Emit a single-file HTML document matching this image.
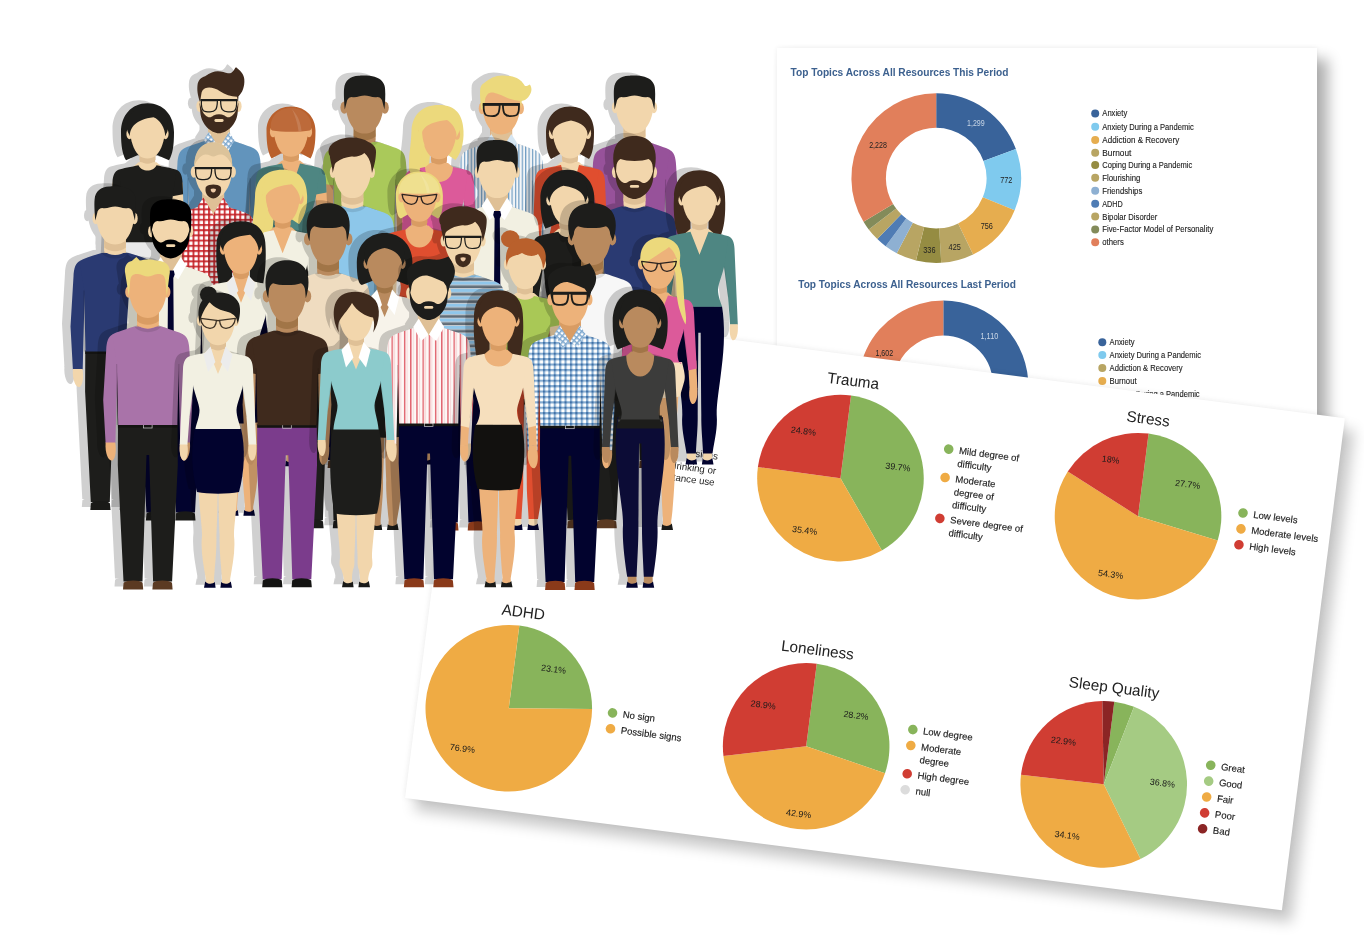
<!DOCTYPE html>
<html lang="en"><head><meta charset="utf-8"><title>Wellbeing dashboard</title>
<style>
html,body{margin:0;padding:0;background:#fff;}
body{width:1364px;height:948px;overflow:hidden;position:relative;font-family:"Liberation Sans",sans-serif;}
svg text{font-family:"Liberation Sans",sans-serif;}
.layer{position:absolute;left:0;top:0;width:1364px;height:948px;overflow:hidden;}
#card1{position:absolute;left:777px;top:48px;width:540px;height:392px;background:#fff;
 box-shadow:11px 11px 13px rgba(0,0,0,.31), 0 0 5px rgba(0,0,0,.07);}
#card2{position:absolute;left:468.1px;top:306px;width:884px;height:495.7px;background:#fff;transform-origin:0 0;transform:rotate(7.29deg);
 box-shadow:11px 11px 14px rgba(0,0,0,.215), 0 0 6px rgba(0,0,0,.08);}
#card2 svg{position:absolute;left:0;top:0;overflow:visible;}
#c1txt{filter:blur(.35px);}
</style></head>
<body>
<div class="layer">
<div id="card1"></div>
<svg id="c1txt" class="layer" width="1364" height="948" viewBox="0 0 1364 948">
<path d="M936.20,93.30A84.8,84.8 0 0 1 1015.89,149.10L983.47,160.90A50.3,50.3 0 0 0 936.20,127.80Z" fill="#39639a"/>
<path d="M1015.89,149.10A84.8,84.8 0 0 1 1014.66,210.28L982.74,197.19A50.3,50.3 0 0 0 983.47,160.90Z" fill="#7fcaee"/>
<path d="M1014.66,210.28A84.8,84.8 0 0 1 973.11,254.45L958.09,223.39A50.3,50.3 0 0 0 982.74,197.19Z" fill="#e6ad4f"/>
<path d="M973.11,254.45A84.8,84.8 0 0 1 941.23,262.75L939.18,228.31A50.3,50.3 0 0 0 958.09,223.39Z" fill="#b8a563"/>
<path d="M941.23,262.75A84.8,84.8 0 0 1 915.97,260.45L924.20,226.95A50.3,50.3 0 0 0 939.18,228.31Z" fill="#958c42"/>
<path d="M915.97,260.45A84.8,84.8 0 0 1 896.78,253.18L912.82,222.64A50.3,50.3 0 0 0 924.20,226.95Z" fill="#b8a563"/>
<path d="M896.78,253.18A84.8,84.8 0 0 1 885.64,246.18L906.21,218.48A50.3,50.3 0 0 0 912.82,222.64Z" fill="#8eb0d2"/>
<path d="M885.64,246.18A84.8,84.8 0 0 1 877.29,239.10L901.26,214.28A50.3,50.3 0 0 0 906.21,218.48Z" fill="#4f7cb4"/>
<path d="M877.29,239.10A84.8,84.8 0 0 1 868.74,229.49L896.19,208.58A50.3,50.3 0 0 0 901.26,214.28Z" fill="#b8a563"/>
<path d="M868.74,229.49A84.8,84.8 0 0 1 863.51,221.78L893.08,204.01A50.3,50.3 0 0 0 896.19,208.58Z" fill="#838b5a"/>
<path d="M863.51,221.78A84.8,84.8 0 0 1 936.20,93.30L936.20,127.80A50.3,50.3 0 0 0 893.08,204.01Z" fill="#e17f5b"/>
<text x="975.9" y="125.8" font-size="8.2" fill="#c9d6e6" text-anchor="middle" textLength="17.7" lengthAdjust="spacingAndGlyphs">1,299</text>
<text x="1006.3" y="183.0" font-size="8.2" fill="#222" text-anchor="middle" textLength="12.2" lengthAdjust="spacingAndGlyphs">772</text>
<text x="986.8" y="228.6" font-size="8.2" fill="#222" text-anchor="middle" textLength="12.2" lengthAdjust="spacingAndGlyphs">756</text>
<text x="954.7" y="250.1" font-size="8.2" fill="#222" text-anchor="middle" textLength="12.2" lengthAdjust="spacingAndGlyphs">425</text>
<text x="929.4" y="252.6" font-size="8.2" fill="#222" text-anchor="middle" textLength="12.2" lengthAdjust="spacingAndGlyphs">336</text>
<text x="878.0" y="148.3" font-size="8.2" fill="#222" text-anchor="middle" textLength="17.7" lengthAdjust="spacingAndGlyphs">2,228</text>
<path d="M943.30,300.60A85,85 0 0 1 1028.25,388.57L993.27,387.34A50,50 0 0 0 943.30,335.60Z" fill="#39639a"/>
<path d="M1028.25,388.57A85,85 0 0 1 1008.41,440.24L981.60,417.74A50,50 0 0 0 993.27,387.34Z" fill="#7fcaee"/>
<path d="M1008.41,440.24A85,85 0 0 1 972.37,465.47L960.40,432.58A50,50 0 0 0 981.60,417.74Z" fill="#b8a563"/>
<path d="M972.37,465.47A85,85 0 0 1 878.19,440.24L905.00,417.74A50,50 0 0 0 960.40,432.58Z" fill="#e6ad4f"/>
<path d="M878.19,440.24A85,85 0 0 1 943.30,300.60L943.30,335.60A50,50 0 0 0 905.00,417.74Z" fill="#e17f5b"/>
<text x="989.4" y="339.0" font-size="8.2" fill="#c9d6e6" text-anchor="middle" textLength="17.7" lengthAdjust="spacingAndGlyphs">1,110</text>
<text x="884.3" y="356.2" font-size="8.2" fill="#222" text-anchor="middle" textLength="17.7" lengthAdjust="spacingAndGlyphs">1,602</text>
<text x="790.6" y="75.6" font-size="10.4" font-weight="bold" fill="#3d618f" textLength="217.8" lengthAdjust="spacingAndGlyphs">Top Topics Across All Resources This Period</text>
<text x="798.2" y="288" font-size="10.4" font-weight="bold" fill="#3d618f" textLength="217.8" lengthAdjust="spacingAndGlyphs">Top Topics Across All Resources Last Period</text>
<circle cx="1095.2" cy="113.5" r="4" fill="#39639a"/>
<text x="1102.3" y="116.4" font-size="8.2" fill="#1c1c1c" stroke="#1c1c1c" stroke-width=".12" textLength="25" lengthAdjust="spacingAndGlyphs">Anxiety</text>
<circle cx="1095.2" cy="126.7" r="4" fill="#7fcaee"/>
<text x="1102.3" y="129.6" font-size="8.2" fill="#1c1c1c" stroke="#1c1c1c" stroke-width=".12" textLength="91.5" lengthAdjust="spacingAndGlyphs">Anxiety During a Pandemic</text>
<circle cx="1095.2" cy="139.9" r="4" fill="#e6ad4f"/>
<text x="1102.3" y="142.8" font-size="8.2" fill="#1c1c1c" stroke="#1c1c1c" stroke-width=".12" textLength="77" lengthAdjust="spacingAndGlyphs">Addiction &amp; Recovery</text>
<circle cx="1095.2" cy="152.8" r="4" fill="#b8a563"/>
<text x="1102.3" y="155.7" font-size="8.2" fill="#1c1c1c" stroke="#1c1c1c" stroke-width=".12" textLength="29" lengthAdjust="spacingAndGlyphs">Burnout</text>
<circle cx="1095.2" cy="164.9" r="4" fill="#958c42"/>
<text x="1102.3" y="167.8" font-size="8.2" fill="#1c1c1c" stroke="#1c1c1c" stroke-width=".12" textLength="90" lengthAdjust="spacingAndGlyphs">Coping During a Pandemic</text>
<circle cx="1095.2" cy="177.8" r="4" fill="#b8a563"/>
<text x="1102.3" y="180.7" font-size="8.2" fill="#1c1c1c" stroke="#1c1c1c" stroke-width=".12" textLength="38" lengthAdjust="spacingAndGlyphs">Flourishing</text>
<circle cx="1095.2" cy="190.8" r="4" fill="#8eb0d2"/>
<text x="1102.3" y="193.7" font-size="8.2" fill="#1c1c1c" stroke="#1c1c1c" stroke-width=".12" textLength="40" lengthAdjust="spacingAndGlyphs">Friendships</text>
<circle cx="1095.2" cy="203.7" r="4" fill="#4f7cb4"/>
<text x="1102.3" y="206.6" font-size="8.2" fill="#1c1c1c" stroke="#1c1c1c" stroke-width=".12" textLength="20.5" lengthAdjust="spacingAndGlyphs">ADHD</text>
<circle cx="1095.2" cy="216.6" r="4" fill="#b8a563"/>
<text x="1102.3" y="219.5" font-size="8.2" fill="#1c1c1c" stroke="#1c1c1c" stroke-width=".12" textLength="55" lengthAdjust="spacingAndGlyphs">Bipolar Disorder</text>
<circle cx="1095.2" cy="229.5" r="4" fill="#838b5a"/>
<text x="1102.3" y="232.4" font-size="8.2" fill="#1c1c1c" stroke="#1c1c1c" stroke-width=".12" textLength="111" lengthAdjust="spacingAndGlyphs">Five-Factor Model of Personality</text>
<circle cx="1095.2" cy="242.2" r="4" fill="#e17f5b"/>
<text x="1102.3" y="245.1" font-size="8.2" fill="#1c1c1c" stroke="#1c1c1c" stroke-width=".12" textLength="21.5" lengthAdjust="spacingAndGlyphs">others</text>
<circle cx="1102.3" cy="342.2" r="4" fill="#39639a"/>
<text x="1109.6" y="345.1" font-size="8.2" fill="#1c1c1c" stroke="#1c1c1c" stroke-width=".12" textLength="25" lengthAdjust="spacingAndGlyphs">Anxiety</text>
<circle cx="1102.3" cy="355.1" r="4" fill="#7fcaee"/>
<text x="1109.6" y="358.0" font-size="8.2" fill="#1c1c1c" stroke="#1c1c1c" stroke-width=".12" textLength="91.5" lengthAdjust="spacingAndGlyphs">Anxiety During a Pandemic</text>
<circle cx="1102.3" cy="368" r="4" fill="#b8a563"/>
<text x="1109.6" y="370.9" font-size="8.2" fill="#1c1c1c" stroke="#1c1c1c" stroke-width=".12" textLength="73" lengthAdjust="spacingAndGlyphs">Addiction &amp; Recovery</text>
<circle cx="1102.3" cy="380.9" r="4" fill="#e6ad4f"/>
<text x="1109.6" y="383.8" font-size="8.2" fill="#1c1c1c" stroke="#1c1c1c" stroke-width=".12" textLength="27" lengthAdjust="spacingAndGlyphs">Burnout</text>
<circle cx="1102.3" cy="393.8" r="4" fill="#958c42"/>
<text x="1109.6" y="396.7" font-size="8.2" fill="#1c1c1c" stroke="#1c1c1c" stroke-width=".12" textLength="90" lengthAdjust="spacingAndGlyphs">Coping During a Pandemic</text>
</svg>
<div id="card2"><svg width="884" height="496" viewBox="0 0 884 496">
<text x="267" y="120.7" font-size="9.7" fill="#222" text-anchor="end">signs</text>
<text x="267" y="135.3" font-size="9.7" fill="#222" text-anchor="end">drinking or</text>
<text x="267" y="147" font-size="9.7" fill="#222" text-anchor="end">substance use</text>
<path d="M391.30,123.50L391.30,40.20A83.3,83.3 0 0 1 441.52,189.96Z" fill="#88b45b"/>
<path d="M391.30,123.50L441.52,189.96A83.3,83.3 0 0 1 308.00,122.98Z" fill="#efab44"/>
<path d="M391.30,123.50L308.00,122.98A83.3,83.3 0 0 1 391.30,40.20Z" fill="#d03d33"/>
<text x="391.6" y="30.5" font-size="15.3" fill="#222" text-anchor="middle">Trauma</text>
<circle cx="495" cy="81" r="4.8" fill="#88b45b"/>
<text x="505.5" y="84.4" font-size="9.55" fill="#1c1c1c" stroke="#1c1c1c" stroke-width=".15">Mild degree of</text>
<text x="505.5" y="97.4" font-size="9.55" fill="#1c1c1c" stroke="#1c1c1c" stroke-width=".15">difficulty</text>
<circle cx="495" cy="109.6" r="4.8" fill="#efab44"/>
<text x="505.5" y="113.0" font-size="9.55" fill="#1c1c1c" stroke="#1c1c1c" stroke-width=".15">Moderate</text>
<text x="505.5" y="126.0" font-size="9.55" fill="#1c1c1c" stroke="#1c1c1c" stroke-width=".15">degree of</text>
<text x="505.5" y="139.0" font-size="9.55" fill="#1c1c1c" stroke="#1c1c1c" stroke-width=".15">difficulty</text>
<circle cx="495" cy="150.8" r="4.8" fill="#d03d33"/>
<text x="505.5" y="154.2" font-size="9.55" fill="#1c1c1c" stroke="#1c1c1c" stroke-width=".15">Severe degree of</text>
<text x="505.5" y="167.2" font-size="9.55" fill="#1c1c1c" stroke="#1c1c1c" stroke-width=".15">difficulty</text>
<path d="M691.30,123.50L691.30,40.20A83.3,83.3 0 0 1 773.40,137.56Z" fill="#88b45b"/>
<path d="M691.30,123.50L773.40,137.56A83.3,83.3 0 1 1 615.93,88.03Z" fill="#efab44"/>
<path d="M691.30,123.50L615.93,88.03A83.3,83.3 0 0 1 691.30,40.20Z" fill="#d03d33"/>
<text x="689" y="30.8" font-size="15.3" fill="#222" text-anchor="middle">Stress</text>
<circle cx="795" cy="107" r="4.8" fill="#88b45b"/>
<text x="805.5" y="110.4" font-size="9.55" fill="#1c1c1c" stroke="#1c1c1c" stroke-width=".15">Low levels</text>
<circle cx="795" cy="123.0" r="4.8" fill="#efab44"/>
<text x="805.5" y="126.4" font-size="9.55" fill="#1c1c1c" stroke="#1c1c1c" stroke-width=".15">Moderate levels</text>
<circle cx="795" cy="139.0" r="4.8" fill="#d03d33"/>
<text x="805.5" y="142.4" font-size="9.55" fill="#1c1c1c" stroke="#1c1c1c" stroke-width=".15">High levels</text>
<path d="M91.50,393.80L91.50,310.50A83.3,83.3 0 0 1 174.21,383.88Z" fill="#88b45b"/>
<path d="M91.50,393.80L174.21,383.88A83.3,83.3 0 1 1 91.50,310.50Z" fill="#efab44"/>
<text x="93.8" y="301.8" font-size="15.3" fill="#222" text-anchor="middle">ADHD</text>
<circle cx="195" cy="385.3" r="4.8" fill="#88b45b"/>
<text x="205.5" y="388.7" font-size="9.55" fill="#1c1c1c" stroke="#1c1c1c" stroke-width=".15">No sign</text>
<circle cx="195" cy="401.3" r="4.8" fill="#efab44"/>
<text x="205.5" y="404.7" font-size="9.55" fill="#1c1c1c" stroke="#1c1c1c" stroke-width=".15">Possible signs</text>
<path d="M391.30,393.80L391.30,310.50A83.3,83.3 0 0 1 472.92,410.44Z" fill="#88b45b"/>
<path d="M391.30,393.80L472.92,410.44A83.3,83.3 0 0 1 310.49,414.01Z" fill="#efab44"/>
<path d="M391.30,393.80L310.49,414.01A83.3,83.3 0 0 1 391.30,310.50Z" fill="#d03d33"/>
<text x="390.4" y="302" font-size="15.3" fill="#222" text-anchor="middle">Loneliness</text>
<circle cx="495" cy="363.7" r="4.8" fill="#88b45b"/>
<text x="505.5" y="367.1" font-size="9.55" fill="#1c1c1c" stroke="#1c1c1c" stroke-width=".15">Low degree</text>
<circle cx="495" cy="379.7" r="4.8" fill="#efab44"/>
<text x="505.5" y="383.1" font-size="9.55" fill="#1c1c1c" stroke="#1c1c1c" stroke-width=".15">Moderate</text>
<text x="505.5" y="396.1" font-size="9.55" fill="#1c1c1c" stroke="#1c1c1c" stroke-width=".15">degree</text>
<circle cx="495" cy="408.3" r="4.8" fill="#d03d33"/>
<text x="505.5" y="411.7" font-size="9.55" fill="#1c1c1c" stroke="#1c1c1c" stroke-width=".15">High degree</text>
<circle cx="495" cy="424.3" r="4.8" fill="#dcdcdc"/>
<text x="505.5" y="427.7" font-size="9.55" fill="#1c1c1c" stroke="#1c1c1c" stroke-width=".15">null</text>
<path d="M691.30,393.80L691.30,310.50A83.3,83.3 0 0 1 711.51,312.99Z" fill="#88b45b"/>
<path d="M691.30,393.80L711.51,312.99A83.3,83.3 0 0 1 737.25,463.28Z" fill="#a5cb83"/>
<path d="M691.30,393.80L737.25,463.28A83.3,83.3 0 0 1 608.01,394.85Z" fill="#efab44"/>
<path d="M691.30,393.80L608.01,394.85A83.3,83.3 0 0 1 679.30,311.37Z" fill="#d03d33"/>
<path d="M691.30,393.80L679.30,311.37A83.3,83.3 0 0 1 691.30,310.50Z" fill="#8b2525"/>
<text x="689.3" y="301.7" font-size="15.3" fill="#222" text-anchor="middle">Sleep Quality</text>
<circle cx="795" cy="361.3" r="4.8" fill="#88b45b"/>
<text x="805.5" y="364.7" font-size="9.55" fill="#1c1c1c" stroke="#1c1c1c" stroke-width=".15">Great</text>
<circle cx="795" cy="377.3" r="4.8" fill="#a5cb83"/>
<text x="805.5" y="380.7" font-size="9.55" fill="#1c1c1c" stroke="#1c1c1c" stroke-width=".15">Good</text>
<circle cx="795" cy="393.3" r="4.8" fill="#efab44"/>
<text x="805.5" y="396.7" font-size="9.55" fill="#1c1c1c" stroke="#1c1c1c" stroke-width=".15">Fair</text>
<circle cx="795" cy="409.3" r="4.8" fill="#d03d33"/>
<text x="805.5" y="412.7" font-size="9.55" fill="#1c1c1c" stroke="#1c1c1c" stroke-width=".15">Poor</text>
<circle cx="795" cy="425.3" r="4.8" fill="#8b2525"/>
<text x="805.5" y="428.7" font-size="9.55" fill="#1c1c1c" stroke="#1c1c1c" stroke-width=".15">Bad</text>
<text x="348.6" y="84.5" font-size="8.9" fill="#1a1a1a" text-anchor="middle">24.8%</text>
<text x="446.9" y="108.2" font-size="8.9" fill="#1a1a1a" text-anchor="middle">39.7%</text>
<text x="362.4" y="182.9" font-size="8.9" fill="#1a1a1a" text-anchor="middle">35.4%</text>
<text x="657" y="73.8" font-size="8.9" fill="#1a1a1a" text-anchor="middle">18%</text>
<text x="736.5" y="88.6" font-size="8.9" fill="#1a1a1a" text-anchor="middle">27.7%</text>
<text x="671.5" y="187.6" font-size="8.9" fill="#1a1a1a" text-anchor="middle">54.3%</text>
<text x="131" y="352.4" font-size="8.9" fill="#1a1a1a" text-anchor="middle">23.1%</text>
<text x="50.6" y="442.6" font-size="8.9" fill="#1a1a1a" text-anchor="middle">76.9%</text>
<text x="343.4" y="361.2" font-size="8.9" fill="#1a1a1a" text-anchor="middle">28.9%</text>
<text x="436.9" y="359.9" font-size="8.9" fill="#1a1a1a" text-anchor="middle">28.2%</text>
<text x="392.4" y="464.7" font-size="8.9" fill="#1a1a1a" text-anchor="middle">42.9%</text>
<text x="645.8" y="359.0" font-size="8.9" fill="#1a1a1a" text-anchor="middle">22.9%</text>
<text x="749.3" y="388.1" font-size="8.9" fill="#1a1a1a" text-anchor="middle">36.8%</text>
<text x="661.5" y="452.0" font-size="8.9" fill="#1a1a1a" text-anchor="middle">34.1%</text>
</svg></div>
<svg class="layer" id="crowd" width="1364" height="948" viewBox="0 0 1364 948">

<defs>
<filter id="sh" x="-20%" y="-20%" width="140%" height="140%" color-interpolation-filters="sRGB">
 <feColorMatrix type="matrix" values="0 0 0 0 0  0 0 0 0 0  0 0 0 0 0  0 0 0 0.185 0"/>
</filter>
<pattern id="chkR" width="5.2" height="5.2" patternUnits="userSpaceOnUse"><rect width="5.2" height="5.2" fill="#fff"/><rect width="5.2" height="2" fill="#d23a3f"/><rect width="2" height="5.2" fill="#d23a3f"/><rect width="2" height="2" fill="#b8262c"/></pattern>
<pattern id="chkB" width="5.4" height="5.4" patternUnits="userSpaceOnUse"><rect width="5.4" height="5.4" fill="#fff"/><rect width="5.4" height="2.2" fill="#86add1"/><rect width="2.2" height="5.4" fill="#86add1"/><rect width="2.2" height="2.2" fill="#3f6fa6"/></pattern>
<pattern id="chkC" width="4" height="4" patternUnits="userSpaceOnUse" patternTransform="rotate(40)"><rect width="4" height="4" fill="#fff"/><rect width="4" height="1.5" fill="#7fa9cf"/><rect width="1.5" height="4" fill="#7fa9cf"/></pattern>
<pattern id="strB" width="3.4" height="8" patternUnits="userSpaceOnUse"><rect width="3.4" height="8" fill="#f4f6f8"/><rect width="1.2" height="8" fill="#6f9cc2"/></pattern>
<pattern id="strR" width="6.2" height="8" patternUnits="userSpaceOnUse"><rect width="6.2" height="8" fill="#fdf8f6"/><rect width="1.4" height="8" fill="#e0606b"/><rect x="3.1" width=".5" height="8" fill="#f1b9bd"/></pattern>
<pattern id="strH" width="8" height="7.4" patternUnits="userSpaceOnUse"><rect width="8" height="7.4" fill="#616d78"/><rect width="8" height="3.2" y="0" fill="#8fc6ea"/><rect width="8" height=".7" y="3.2" fill="#e9eef2"/><rect width="8" height=".7" y="6.7" fill="#e9eef2"/></pattern>
</defs>

<use href="#p0" x="-8.5" y="-3" filter="url(#sh)"/>
<g id="p0" transform="translate(219,132.2)"><path d="M-29.8,107L29.8,107L30,147L24.3,262L5.3,262L1.3,137L-1.3,137L-5.3,262L-24.3,262L-30,147Z" fill="#02032e"/><rect x="-29.8" y="106" width="59.6" height="3.6" fill="#141412"/><rect x="-4.3" y="106.4" width="8.6" height="3.6" fill="none" stroke="#cfcfcf" stroke-width=".7"/><path d="M-24.8,270L-4.6,270L-5.2,263.2C-8,260.2 -21,260.2 -24.2,263.2Z" fill="#5b3a22"/><path d="M24.8,270L4.6,270L5.2,263.2C8,260.2 21,260.2 24.2,263.2Z" fill="#5b3a22"/><path d="M-10.8,-14L10.8,-14L10.8,14L-10.8,14Z" fill="#f2d6ac"/><path d="M-10.8,-8L10.8,-8L10.8,3C5.4,8 -5.4,8 -10.8,3Z" fill="#dfc096"/><path d="M-29,20L-35,16.5C-39.5,18 -41.3,24 -41.6,32L-44.6,82L-42.2,125L-32.4,125L-31,70Z" fill="#6294bc"/><path d="M29,20L35,16.5C39.5,18 41.3,24 41.6,32L44.6,82L42.2,125L32.4,125L31,70Z" fill="#6294bc"/><path d="M-42.2,124.5L-32.6,124.5C-31.3,132 -32.1,140 -35.3,142.5C-39.3,143.5 -42.9,136 -42.2,124.5Z" fill="#f2d6ac"/><path d="M42.2,124.5L32.6,124.5C31.3,132 32.1,140 35.3,142.5C39.3,143.5 42.9,136 42.2,124.5Z" fill="#f2d6ac"/><path d="M-13.5,8.5C-23,11.5 -31,14 -35.5,16.5L-31,45L-29.6,107L29.6,107L31,45L35.5,16.5C31,14 23,11.5 13.5,8.5Z" fill="#6294bc"/><path d="M-30.6,46L-31.6,46L-31.2,107L-29.6,107Z" fill="rgba(0,0,0,.16)"/><path d="M30.6,46L31.6,46L31.2,107L29.6,107Z" fill="rgba(0,0,0,.16)"/><path d="M-11,2L0,17L11,2L11,10L-11,10Z" fill="#f2d6ac"/><path d="M-10.5,3L0,16.5L10.5,3L10.5,-4L-10.5,-4Z" fill="#dfc096"/><path d="M-10,-0.5L-15.5,8L-7.5,22L-0.3,15.5Z" fill="url(#chkC)"/><path d="M10,-0.5L15.5,8L7.5,22L0.3,15.5Z" fill="url(#chkC)"/><ellipse cx="-19.4" cy="-26" rx="3.2" ry="5.8" fill="#f2d6ac"/><ellipse cx="19.4" cy="-26" rx="3.2" ry="5.8" fill="#f2d6ac"/><path d="M-19,-30C-19,-47 -11,-55.5 0,-55.5C11,-55.5 19,-47 19,-30C19,-18 14.5,-8.5 9.5,-3.2C6.5,-0.6 3,0 0,0C-3,0 -6.5,-0.6 -9.5,-3.2C-14.5,-8.5 -19,-18 -19,-30Z" fill="#f2d6ac"/><path d="M-19,-30C-21.5,-38 -22,-42 -21.5,-47C-21,-52 -18,-55 -13.9,-56C-9,-59.5 -5,-61 -1.3,-61C3,-61 6,-59.5 8.9,-59C11,-58.5 13,-59.5 14.5,-61.5C15.5,-63 16,-64.5 17.1,-65C21,-62 25,-58 25.3,-53C25.6,-49 25,-46 24,-43C23,-40 21,-37.5 19.5,-36L19,-30L18,-35.5C12,-35.5 6,-38 1,-41C-4,-44 -9,-45.5 -13.9,-44C-16,-43 -17.5,-41 -17.7,-38Z" fill="#3f2a1d"/><path d="M-19.6,-30L-18.6,-19C-17.5,-8 -8,1 0,1C8,1 17.5,-8 18.6,-19L19.6,-30L17,-22C13.5,-14.5 9,-13.5 5.5,-16.8C2,-18.3 -2,-18.3 -5.5,-16.8C-9,-13.5 -13.5,-14.5 -17,-22Z" fill="#3f2a1d"/><rect x="-4.6" y="-13.2" width="9.2" height="2.9" rx="1.4" fill="#f2d6ac"/><path d="M-1.6,-31.5L-17.6,-31.5C-17.9,-26.0 -17,-22.9 -15.5,-21.5C-14,-20.3 -11,-20.3 -9,-20.3C-6.5,-20.3 -4.6,-20.9 -3.4,-22.5C-2,-24.5 -1.7,-27.5 -1.6,-31.5Z" fill="none" stroke="#1d1d1b" stroke-width="1.25" stroke-linejoin="round"/><path d="M1.6,-31.5L17.6,-31.5C17.9,-26.0 17,-22.9 15.5,-21.5C14,-20.3 11,-20.3 9,-20.3C6.5,-20.3 4.6,-20.9 3.4,-22.5C2,-24.5 1.7,-27.5 1.6,-31.5Z" fill="none" stroke="#1d1d1b" stroke-width="1.25" stroke-linejoin="round"/><path d="M-18.6,-33.10L18.6,-33.10L18.6,-31.10L-18.6,-31.10Z" fill="#1d1d1b"/></g>
<use href="#p1" x="-8.5" y="-3" filter="url(#sh)"/>
<g id="p1" transform="translate(634.5,133.5)"><path d="M-29.8,107L29.8,107L30,147L24.3,262L5.3,262L1.3,137L-1.3,137L-5.3,262L-24.3,262L-30,147Z" fill="#1d1d1b"/><rect x="-29.8" y="106" width="59.6" height="3.6" fill="#141412"/><rect x="-4.3" y="106.4" width="8.6" height="3.6" fill="none" stroke="#cfcfcf" stroke-width=".7"/><path d="M-24.8,270L-4.6,270L-5.2,263.2C-8,260.2 -21,260.2 -24.2,263.2Z" fill="#5b3a22"/><path d="M24.8,270L4.6,270L5.2,263.2C8,260.2 21,260.2 24.2,263.2Z" fill="#5b3a22"/><path d="M-10.8,-14L10.8,-14L10.8,14L-10.8,14Z" fill="#f2d6ac"/><path d="M-10.8,-8L10.8,-8L10.8,3C5.4,8 -5.4,8 -10.8,3Z" fill="#dfc096"/><path d="M-29,20L-35,16.5C-39.5,18 -41.3,24 -41.6,32L-44.6,82L-42.2,125L-32.4,125L-31,70Z" fill="#97529a"/><path d="M29,20L35,16.5C39.5,18 41.3,24 41.6,32L44.6,82L42.2,125L32.4,125L31,70Z" fill="#97529a"/><path d="M-42.2,124.5L-32.6,124.5C-31.3,132 -32.1,140 -35.3,142.5C-39.3,143.5 -42.9,136 -42.2,124.5Z" fill="#f2d6ac"/><path d="M42.2,124.5L32.6,124.5C31.3,132 32.1,140 35.3,142.5C39.3,143.5 42.9,136 42.2,124.5Z" fill="#f2d6ac"/><path d="M-13.5,8.5C-23,11.5 -31,14 -35.5,16.5L-31,45L-29.6,107L29.6,107L31,45L35.5,16.5C31,14 23,11.5 13.5,8.5Z" fill="#97529a"/><path d="M-30.6,46L-31.6,46L-31.2,107L-29.6,107Z" fill="rgba(0,0,0,.16)"/><path d="M30.6,46L31.6,46L31.2,107L29.6,107Z" fill="rgba(0,0,0,.16)"/><path d="M-13.5,8.5C-8,16 8,16 13.5,8.5L10.5,7C6,12 -6,12 -10.5,7Z" fill="rgba(0,0,0,.10)"/><path d="M-10.8,6.5C-6,12 6,12 10.8,6.5L10.8,0L-10.8,0Z" fill="#f2d6ac"/><path d="M-10.8,3C-5,8 5,8 10.8,3L10.8,-6L-10.8,-6Z" fill="#dfc096"/><ellipse cx="-19.4" cy="-26" rx="3.2" ry="5.8" fill="#f2d6ac"/><ellipse cx="19.4" cy="-26" rx="3.2" ry="5.8" fill="#f2d6ac"/><path d="M-19,-30C-19,-47 -11,-55.5 0,-55.5C11,-55.5 19,-47 19,-30C19,-18 14.5,-8.5 9.5,-3.2C6.5,-0.6 3,0 0,0C-3,0 -6.5,-0.6 -9.5,-3.2C-14.5,-8.5 -19,-18 -19,-30Z" fill="#f2d6ac"/><path d="M-19.8,-24C-20.5,-32 -21,-40 -20.5,-45C-20,-53 -14,-57.5 -6,-57.8C-3,-58.3 6,-58.3 10,-56.8C17,-54.8 20.5,-50 20.5,-44C21,-38 20.5,-30 19.8,-24L18,-31C17.5,-34.5 16,-36 13,-36.5C8,-35.5 4,-38 0,-38C-4,-38 -8,-35.5 -13,-36.5C-16,-36 -17.5,-34.5 -18,-31Z" fill="#1d1d1b"/></g>
<use href="#p2" x="-8.5" y="-3" filter="url(#sh)"/>
<g id="p2" transform="translate(364.6,133.6)"><path d="M-29.8,107L29.8,107L30,147L24.3,262L5.3,262L1.3,137L-1.3,137L-5.3,262L-24.3,262L-30,147Z" fill="#1d1d1b"/><rect x="-29.8" y="106" width="59.6" height="3.6" fill="#141412"/><rect x="-4.3" y="106.4" width="8.6" height="3.6" fill="none" stroke="#cfcfcf" stroke-width=".7"/><path d="M-24.8,270L-4.6,270L-5.2,263.2C-8,260.2 -21,260.2 -24.2,263.2Z" fill="#5b3a22"/><path d="M24.8,270L4.6,270L5.2,263.2C8,260.2 21,260.2 24.2,263.2Z" fill="#5b3a22"/><path d="M-10.8,-14L10.8,-14L10.8,14L-10.8,14Z" fill="#b98a5e"/><path d="M-10.8,-8L10.8,-8L10.8,3C5.4,8 -5.4,8 -10.8,3Z" fill="#a17547"/><path d="M-31,40L-42,40L-44.4,82L-42,125L-33,125L-31.5,70Z" fill="#b98a5e"/><path d="M-29,20L-35,16.5C-39.5,18 -41.3,24 -41.6,32L-43,50L-30.5,52Z" fill="#aac95a"/><path d="M31,40L42,40L44.4,82L42,125L33,125L31.5,70Z" fill="#b98a5e"/><path d="M29,20L35,16.5C39.5,18 41.3,24 41.6,32L43,50L30.5,52Z" fill="#aac95a"/><path d="M-42.2,124.5L-32.6,124.5C-31.3,132 -32.1,140 -35.3,142.5C-39.3,143.5 -42.9,136 -42.2,124.5Z" fill="#b98a5e"/><path d="M42.2,124.5L32.6,124.5C31.3,132 32.1,140 35.3,142.5C39.3,143.5 42.9,136 42.2,124.5Z" fill="#b98a5e"/><path d="M-13.5,8.5C-23,11.5 -31,14 -35.5,16.5L-31,45L-29.6,107L29.6,107L31,45L35.5,16.5C31,14 23,11.5 13.5,8.5Z" fill="#aac95a"/><path d="M-30.6,46L-31.6,46L-31.2,107L-29.6,107Z" fill="rgba(0,0,0,.16)"/><path d="M30.6,46L31.6,46L31.2,107L29.6,107Z" fill="rgba(0,0,0,.16)"/><path d="M-13.5,8.5C-8,16 8,16 13.5,8.5L10.5,7C6,12 -6,12 -10.5,7Z" fill="rgba(0,0,0,.10)"/><path d="M-10.8,6.5C-6,12 6,12 10.8,6.5L10.8,0L-10.8,0Z" fill="#b98a5e"/><path d="M-10.8,3C-5,8 5,8 10.8,3L10.8,-6L-10.8,-6Z" fill="#a17547"/><ellipse cx="-20.3" cy="-26" rx="3.9" ry="6.2" fill="#b98a5e"/><ellipse cx="20.3" cy="-26" rx="3.9" ry="6.2" fill="#b98a5e"/><path d="M-19,-30C-19,-47 -11,-55.5 0,-55.5C11,-55.5 19,-47 19,-30C19,-18 14.5,-8.5 9.5,-3.2C6.5,-0.6 3,0 0,0C-3,0 -6.5,-0.6 -9.5,-3.2C-14.5,-8.5 -19,-18 -19,-30Z" fill="#b98a5e"/><path d="M-19.8,-24C-20.5,-32 -21,-40 -20.5,-45C-20,-53 -14,-57.5 -6,-57.8C-3,-58.3 6,-58.3 10,-56.8C17,-54.8 20.5,-50 20.5,-44C21,-38 20.5,-30 19.8,-24L18,-31C17.5,-34.5 16,-36 13,-36.5C8,-35.5 4,-38 0,-38C-4,-38 -8,-35.5 -13,-36.5C-16,-36 -17.5,-34.5 -18,-31Z" fill="#1d1d1b"/></g>
<use href="#p3" x="-8.5" y="-3" filter="url(#sh)"/>
<g id="p3" transform="translate(501.3,134.4)"><path d="M-29.8,107L29.8,107L30,147L24.3,262L5.3,262L1.3,137L-1.3,137L-5.3,262L-24.3,262L-30,147Z" fill="#02032e"/><rect x="-29.8" y="106" width="59.6" height="3.6" fill="#141412"/><rect x="-4.3" y="106.4" width="8.6" height="3.6" fill="none" stroke="#cfcfcf" stroke-width=".7"/><path d="M-24.8,270L-4.6,270L-5.2,263.2C-8,260.2 -21,260.2 -24.2,263.2Z" fill="#5b3a22"/><path d="M24.8,270L4.6,270L5.2,263.2C8,260.2 21,260.2 24.2,263.2Z" fill="#5b3a22"/><path d="M-10.8,-14L10.8,-14L10.8,14L-10.8,14Z" fill="#edb27a"/><path d="M-10.8,-8L10.8,-8L10.8,3C5.4,8 -5.4,8 -10.8,3Z" fill="#d99c63"/><path d="M-29,20L-35,16.5C-39.5,18 -41.3,24 -41.6,32L-44.6,82L-42.2,125L-32.4,125L-31,70Z" fill="url(#strB)"/><path d="M29,20L35,16.5C39.5,18 41.3,24 41.6,32L44.6,82L42.2,125L32.4,125L31,70Z" fill="url(#strB)"/><path d="M-42.2,124.5L-32.6,124.5C-31.3,132 -32.1,140 -35.3,142.5C-39.3,143.5 -42.9,136 -42.2,124.5Z" fill="#f2d6ac"/><path d="M42.2,124.5L32.6,124.5C31.3,132 32.1,140 35.3,142.5C39.3,143.5 42.9,136 42.2,124.5Z" fill="#f2d6ac"/><path d="M-13.5,8.5C-23,11.5 -31,14 -35.5,16.5L-31,45L-29.6,107L29.6,107L31,45L35.5,16.5C31,14 23,11.5 13.5,8.5Z" fill="url(#strB)"/><path d="M-30.6,46L-31.6,46L-31.2,107L-29.6,107Z" fill="rgba(0,0,0,.16)"/><path d="M30.6,46L31.6,46L31.2,107L29.6,107Z" fill="rgba(0,0,0,.16)"/><path d="M-11,2L0,17L11,2L11,10L-11,10Z" fill="#f2d6ac"/><path d="M-10.5,3L0,16.5L10.5,3L10.5,-4L-10.5,-4Z" fill="#dfc096"/><path d="M-10,-0.5L-15.5,8L-7.5,22L-0.3,15.5Z" fill="#d6e6f2"/><path d="M10,-0.5L15.5,8L7.5,22L0.3,15.5Z" fill="#d6e6f2"/><ellipse cx="-19.4" cy="-26" rx="3.2" ry="5.8" fill="#edb27a"/><ellipse cx="19.4" cy="-26" rx="3.2" ry="5.8" fill="#edb27a"/><path d="M-19,-30C-19,-47 -11,-55.5 0,-55.5C11,-55.5 19,-47 19,-30C19,-18 14.5,-8.5 9.5,-3.2C6.5,-0.6 3,0 0,0C-3,0 -6.5,-0.6 -9.5,-3.2C-14.5,-8.5 -19,-18 -19,-30Z" fill="#edb27a"/><path d="M-20.4,-25C-20.5,-32 -21.5,-37 -21.2,-42C-21.5,-47 -20,-50 -17.2,-51.5C-12,-56 -6,-59 0.8,-59C6,-59 11,-58 15.5,-56.5C19,-55 21.5,-52 23.7,-48.5C25.5,-48 27,-49 28.6,-50C30.5,-47 30.5,-44 29.4,-41.5C28,-38 26,-36 23.7,-34.3L20.4,-33.5L20,-26L18.5,-33.5C15,-34 11,-35 7.4,-36C2,-38 -3,-41 -7.4,-41.7C-10,-42 -12.5,-41.5 -13.9,-40C-15.5,-38 -16.3,-36 -16.3,-33.5L-17.2,-25.3Z" fill="#ecd97c"/><path d="M-1.6,-29.5L-17.6,-29.5C-17.9,-24.0 -17,-20.9 -15.5,-19.5C-14,-18.3 -11,-18.3 -9,-18.3C-6.5,-18.3 -4.6,-18.9 -3.4,-20.5C-2,-22.5 -1.7,-25.5 -1.6,-29.5Z" fill="none" stroke="#1d1d1b" stroke-width="1.8" stroke-linejoin="round"/><path d="M1.6,-29.5L17.6,-29.5C17.9,-24.0 17,-20.9 15.5,-19.5C14,-18.3 11,-18.3 9,-18.3C6.5,-18.3 4.6,-18.9 3.4,-20.5C2,-22.5 1.7,-25.5 1.6,-29.5Z" fill="none" stroke="#1d1d1b" stroke-width="1.8" stroke-linejoin="round"/><path d="M-18.6,-31.32L18.6,-31.32L18.6,-28.88L-18.6,-28.88Z" fill="#1d1d1b"/></g>
<use href="#p4" x="-8.5" y="-3" filter="url(#sh)"/>
<g id="p4" transform="translate(291,156.4)"><path d="M0,-50C-16,-50 -24.5,-38 -24.5,-26C-24.5,-12 -23.0,-4 -19.5,2L-10,-3L10,-3L19.5,2C23.0,-4 24.5,-12 24.5,-26C24.5,-38 16,-50 0,-50Z" fill="#b9602c"/><path d="M-19.5,144C-18.5,168 -15.8,182 -16,192C-17.6,206 -14.5,220 -12.2,234L-12.4,241L-3.6,241L-4,234C-3,220 -1.2,206 -1.6,192C-1,178 -0.4,162 -0.4,144Z" fill="#edb27a"/><path d="M-14,243L-2.4,243L-3.2,237.2C-5.5,239.6 -10.5,239.6 -12.8,236.6Z" fill="#02032e"/><path d="M19.5,144C18.5,168 15.8,182 16,192C17.6,206 14.5,220 12.2,234L12.4,241L3.6,241L4,234C3,220 1.2,206 1.6,192C1,178 0.4,162 0.4,144Z" fill="#edb27a"/><path d="M14,243L2.4,243L3.2,237.2C5.5,239.6 10.5,239.6 12.8,236.6Z" fill="#02032e"/><path d="M-23,83.5L23,83.5C27.5,102 26.5,128 21,148C10,150.2 -10,150.2 -21,148C-26.5,128 -27.5,102 -23,83.5Z" fill="#1d1d1b"/><path d="M-7.6,-14L7.6,-14L7.6,12L-7.6,12Z" fill="#edb27a"/><path d="M-7.6,-8L7.6,-8L7.6,3C3.8,8 -3.8,8 -7.6,3Z" fill="#d99c63"/><path d="M-25,30L-35,24L-37.5,82L-38.3,100L-30.6,100L-28.5,72L-24.5,42Z" fill="#edb27a"/><path d="M-24,16L-29,11.5C-33,13 -34.8,18 -35,24L-35.6,36L-25,38Z" fill="#4e8682"/><path d="M-38.3,99.5L-30.6,99.5C-29.6,106 -30.2,112.5 -33,115.5C-36.5,116.5 -39,110 -38.3,99.5Z" fill="#edb27a"/><path d="M25,30L35,24L37.5,82L38.3,100L30.6,100L28.5,72L24.5,42Z" fill="#edb27a"/><path d="M24,16L29,11.5C33,13 34.8,18 35,24L35.6,36L25,38Z" fill="#4e8682"/><path d="M38.3,99.5L30.6,99.5C29.6,106 30.2,112.5 33,115.5C36.5,116.5 39,110 38.3,99.5Z" fill="#edb27a"/><path d="M-9,4L9,4L16,10L13,38L-13,38L-16,10Z" fill="#edb27a"/><path d="M-8,1C-4,7 4,7 8,1L8,-6L-8,-6Z" fill="#d99c63"/><path d="M-9,7C-16,8.5 -25,10 -29,11.5L-25,40C-23,50 -19,58 -18.5,65C-18.5,72 -21.5,78 -22.6,84 L22.6,84 C21.5,78 18.5,72 18.5,65C19,58 23,50 25,40L29,11.5C25,10 16,8.5 9,7L0,34Z" fill="#4e8682"/><path d="M-24.6,42L-25.4,42L-29,72L-28.4,72Z" fill="rgba(0,0,0,.10)"/><path d="M24.6,42L25.4,42L29,72L28.4,72Z" fill="rgba(0,0,0,.10)"/><ellipse cx="-18" cy="-24.5" rx="3.1" ry="5.4" fill="#edb27a"/><ellipse cx="18" cy="-24.5" rx="3.1" ry="5.4" fill="#edb27a"/><path d="M-17.3,-29C-17.3,-41 -10,-46.5 0,-46.5C10,-46.5 17.3,-41 17.3,-29C17.3,-17 13.5,-8 9,-3.2C6,-0.4 3,0.3 0,0.3C-3,0.3 -6,-0.4 -9,-3.2C-13.5,-8 -17.3,-17 -17.3,-29Z" fill="#edb27a"/><path d="M-18.6,-26C-10,-24.2 10,-24.2 18.6,-26L20,-27C22,-38 14,-48.5 0,-48.5C-14,-48.5 -22,-38 -20,-27Z" fill="#bd6a3a"/><path d="M1,-47.5C4,-40.5 6.5,-34 7.5,-25.2L10.5,-25.5C9.5,-36 6,-41.5 1,-47.5Z" fill="rgba(255,255,255,.13)"/></g>
<use href="#p5" x="-8.5" y="-3" filter="url(#sh)"/>
<g id="p5" transform="translate(570,158.1)"><path d="M0,-51.5C-16,-51.5 -24,-39.5 -24,-26C-24,-12 -22.5,-4 -19,1L-10,-4L10,-4L19,1C22.5,-4 24,-12 24,-26C24,-39.5 16,-51.5 0,-51.5Z" fill="#3f2a1d"/><path d="M-19.5,144C-18.5,168 -15.8,182 -16,192C-17.6,206 -14.5,220 -12.2,234L-12.4,241L-3.6,241L-4,234C-3,220 -1.2,206 -1.6,192C-1,178 -0.4,162 -0.4,144Z" fill="#f2d6ac"/><path d="M-14,243L-2.4,243L-3.2,237.2C-5.5,239.6 -10.5,239.6 -12.8,236.6Z" fill="#02032e"/><path d="M19.5,144C18.5,168 15.8,182 16,192C17.6,206 14.5,220 12.2,234L12.4,241L3.6,241L4,234C3,220 1.2,206 1.6,192C1,178 0.4,162 0.4,144Z" fill="#f2d6ac"/><path d="M14,243L2.4,243L3.2,237.2C5.5,239.6 10.5,239.6 12.8,236.6Z" fill="#02032e"/><path d="M-23,83.5L23,83.5C27.5,102 26.5,128 21,148C10,150.2 -10,150.2 -21,148C-26.5,128 -27.5,102 -23,83.5Z" fill="#1d1d1b"/><path d="M-7.6,-14L7.6,-14L7.6,12L-7.6,12Z" fill="#f2d6ac"/><path d="M-7.6,-8L7.6,-8L7.6,3C3.8,8 -3.8,8 -7.6,3Z" fill="#dfc096"/><path d="M-24,16L-29,11.5C-33,13 -34.8,18 -35,24L-37.5,82L-38.3,100L-30.6,100L-28.5,72L-24.5,42Z" fill="#e04e2f"/><path d="M-38.3,99.5L-30.6,99.5C-29.6,106 -30.2,112.5 -33,115.5C-36.5,116.5 -39,110 -38.3,99.5Z" fill="#f2d6ac"/><path d="M24,16L29,11.5C33,13 34.8,18 35,24L37.5,82L38.3,100L30.6,100L28.5,72L24.5,42Z" fill="#e04e2f"/><path d="M38.3,99.5L30.6,99.5C29.6,106 30.2,112.5 33,115.5C36.5,116.5 39,110 38.3,99.5Z" fill="#f2d6ac"/><path d="M-9,4L9,4L16,10L13,44L-13,44L-16,10Z" fill="#f2d6ac"/><path d="M-8,1C-4,7 4,7 8,1L8,-6L-8,-6Z" fill="#dfc096"/><path d="M-9,7C-16,8.5 -25,10 -29,11.5L-25,40C-23,50 -19,58 -18.5,65C-18.5,72 -21.5,78 -22.6,84 L22.6,84 C21.5,78 18.5,72 18.5,65C19,58 23,50 25,40L29,11.5C25,10 16,8.5 9,7L0,40Z" fill="#e04e2f"/><path d="M-24.6,42L-25.4,42L-29,72L-28.4,72Z" fill="rgba(0,0,0,.10)"/><path d="M24.6,42L25.4,42L29,72L28.4,72Z" fill="rgba(0,0,0,.10)"/><ellipse cx="-18" cy="-24.5" rx="3.1" ry="5.4" fill="#f2d6ac"/><ellipse cx="18" cy="-24.5" rx="3.1" ry="5.4" fill="#f2d6ac"/><path d="M-17.3,-29C-17.3,-41 -10,-46.5 0,-46.5C10,-46.5 17.3,-41 17.3,-29C17.3,-17 13.5,-8 9,-3.2C6,-0.4 3,0.3 0,0.3C-3,0.3 -6,-0.4 -9,-3.2C-13.5,-8 -17.3,-17 -17.3,-29Z" fill="#f2d6ac"/><path d="M-17.6,-22C-18,-30 -12,-35.5 1,-37.5C12,-35.5 18,-30 17.6,-22L20,-27C22.5,-40 14,-50 0,-50C-14,-50 -22.5,-40 -20,-27Z" fill="#3f2a1d"/></g>
<use href="#p6" x="-8.5" y="-3" filter="url(#sh)"/>
<g id="p6" transform="translate(147.5,158.3)"><path d="M0,-55C-16,-55 -26.5,-43 -26.5,-26C-26.5,-12 -25.0,-4 -21.5,2L-10,-3L10,-3L21.5,2C25.0,-4 26.5,-12 26.5,-26C26.5,-43 16,-55 0,-55Z" fill="#1d1d1b"/><path d="M-19.5,144C-18.5,168 -15.8,182 -16,192C-17.6,206 -14.5,220 -12.2,234L-12.4,241L-3.6,241L-4,234C-3,220 -1.2,206 -1.6,192C-1,178 -0.4,162 -0.4,144Z" fill="#f2d6ac"/><path d="M-14,243L-2.4,243L-3.2,237.2C-5.5,239.6 -10.5,239.6 -12.8,236.6Z" fill="#02032e"/><path d="M19.5,144C18.5,168 15.8,182 16,192C17.6,206 14.5,220 12.2,234L12.4,241L3.6,241L4,234C3,220 1.2,206 1.6,192C1,178 0.4,162 0.4,144Z" fill="#f2d6ac"/><path d="M14,243L2.4,243L3.2,237.2C5.5,239.6 10.5,239.6 12.8,236.6Z" fill="#02032e"/><path d="M-23,83.5L23,83.5C27.5,102 26.5,128 21,148C10,150.2 -10,150.2 -21,148C-26.5,128 -27.5,102 -23,83.5Z" fill="#e9e9e9"/><path d="M-7.6,-14L7.6,-14L7.6,12L-7.6,12Z" fill="#f2d6ac"/><path d="M-7.6,-8L7.6,-8L7.6,3C3.8,8 -3.8,8 -7.6,3Z" fill="#dfc096"/><path d="M-25,30L-35,24L-37.5,82L-38.3,100L-30.6,100L-28.5,72L-24.5,42Z" fill="#f2d6ac"/><path d="M-24,16L-29,11.5C-33,13 -34.8,18 -35,24L-35.6,36L-25,38Z" fill="#1d1d1b"/><path d="M-38.3,99.5L-30.6,99.5C-29.6,106 -30.2,112.5 -33,115.5C-36.5,116.5 -39,110 -38.3,99.5Z" fill="#f2d6ac"/><path d="M25,30L35,24L37.5,82L38.3,100L30.6,100L28.5,72L24.5,42Z" fill="#f2d6ac"/><path d="M24,16L29,11.5C33,13 34.8,18 35,24L35.6,36L25,38Z" fill="#1d1d1b"/><path d="M38.3,99.5L30.6,99.5C29.6,106 30.2,112.5 33,115.5C36.5,116.5 39,110 38.3,99.5Z" fill="#f2d6ac"/><path d="M-9,4L9,4L16,10L13,18L-13,18L-16,10Z" fill="#f2d6ac"/><path d="M-8,1C-4,7 4,7 8,1L8,-6L-8,-6Z" fill="#dfc096"/><path d="M-9,7C-16,8.5 -25,10 -29,11.5L-25,40C-23,50 -19,58 -18.5,65C-18.5,72 -21.5,78 -22.6,84 L22.6,84 C21.5,78 18.5,72 18.5,65C19,58 23,50 25,40L29,11.5C25,10 16,8.5 9,7C6,14 -6,14 -9,7Z" fill="#1d1d1b"/><path d="M-24.6,42L-25.4,42L-29,72L-28.4,72Z" fill="rgba(0,0,0,.10)"/><path d="M24.6,42L25.4,42L29,72L28.4,72Z" fill="rgba(0,0,0,.10)"/><ellipse cx="-18" cy="-24.5" rx="3.1" ry="5.4" fill="#f2d6ac"/><ellipse cx="18" cy="-24.5" rx="3.1" ry="5.4" fill="#f2d6ac"/><path d="M-17.3,-29C-17.3,-41 -10,-46.5 0,-46.5C10,-46.5 17.3,-41 17.3,-29C17.3,-17 13.5,-8 9,-3.2C6,-0.4 3,0.3 0,0.3C-3,0.3 -6,-0.4 -9,-3.2C-13.5,-8 -17.3,-17 -17.3,-29Z" fill="#f2d6ac"/><path d="M-17.6,-22C-18,-30 -12,-39 6,-41C12,-39 18,-30 17.6,-22L20,-27C22.5,-40 14,-53 0,-53C-14,-53 -22.5,-40 -20,-27Z" fill="#1d1d1b"/></g>
<use href="#p7" x="-8.5" y="-3" filter="url(#sh)"/>
<g id="p7" transform="translate(439,158.9)"><path d="M0,-54C-17,-54 -27,-44 -27.5,-28C-28,-14 -30.5,-2 -30,10C-29.5,20 -26,28 -22,32L-12,26L-9,-4L9,-4L16.5,1C22,-6 25,-16 24.5,-28C24,-44 17,-54 0,-54Z" fill="#ecd97c"/><path d="M-19.5,144C-18.5,168 -15.8,182 -16,192C-17.6,206 -14.5,220 -12.2,234L-12.4,241L-3.6,241L-4,234C-3,220 -1.2,206 -1.6,192C-1,178 -0.4,162 -0.4,144Z" fill="#edb27a"/><path d="M-14,243L-2.4,243L-3.2,237.2C-5.5,239.6 -10.5,239.6 -12.8,236.6Z" fill="#02032e"/><path d="M19.5,144C18.5,168 15.8,182 16,192C17.6,206 14.5,220 12.2,234L12.4,241L3.6,241L4,234C3,220 1.2,206 1.6,192C1,178 0.4,162 0.4,144Z" fill="#edb27a"/><path d="M14,243L2.4,243L3.2,237.2C5.5,239.6 10.5,239.6 12.8,236.6Z" fill="#02032e"/><path d="M-23,83.5L23,83.5C27.5,102 26.5,128 21,148C10,150.2 -10,150.2 -21,148C-26.5,128 -27.5,102 -23,83.5Z" fill="#02032e"/><path d="M-7.6,-14L7.6,-14L7.6,12L-7.6,12Z" fill="#edb27a"/><path d="M-7.6,-8L7.6,-8L7.6,3C3.8,8 -3.8,8 -7.6,3Z" fill="#d99c63"/><path d="M-24,16L-29,11.5C-33,13 -34.8,18 -35,24L-37.5,82L-38.3,100L-30.6,100L-28.5,72L-24.5,42Z" fill="#dc5a9a"/><path d="M-38.3,99.5L-30.6,99.5C-29.6,106 -30.2,112.5 -33,115.5C-36.5,116.5 -39,110 -38.3,99.5Z" fill="#edb27a"/><path d="M24,16L29,11.5C33,13 34.8,18 35,24L37.5,82L38.3,100L30.6,100L28.5,72L24.5,42Z" fill="#dc5a9a"/><path d="M38.3,99.5L30.6,99.5C29.6,106 30.2,112.5 33,115.5C36.5,116.5 39,110 38.3,99.5Z" fill="#edb27a"/><path d="M-9,4L9,4L16,10L13,26L-13,26L-16,10Z" fill="#edb27a"/><path d="M-8,1C-4,7 4,7 8,1L8,-6L-8,-6Z" fill="#d99c63"/><path d="M-14,8C-18,9 -25,10 -29,11.5L-25,40C-23,50 -19,58 -18.5,65C-18.5,72 -21.5,78 -22.6,84 L22.6,84 C21.5,78 18.5,72 18.5,65C19,58 23,50 25,40L29,11.5C25,10 18,9 14,8C13.5,28 -13.5,28 -14,8Z" fill="#dc5a9a"/><path d="M-24.6,42L-25.4,42L-29,72L-28.4,72Z" fill="rgba(0,0,0,.10)"/><path d="M24.6,42L25.4,42L29,72L28.4,72Z" fill="rgba(0,0,0,.10)"/><ellipse cx="-18" cy="-24.5" rx="3.1" ry="5.4" fill="#edb27a"/><ellipse cx="18" cy="-24.5" rx="3.1" ry="5.4" fill="#edb27a"/><path d="M-17.3,-29C-17.3,-41 -10,-46.5 0,-46.5C10,-46.5 17.3,-41 17.3,-29C17.3,-17 13.5,-8 9,-3.2C6,-0.4 3,0.3 0,0.3C-3,0.3 -6,-0.4 -9,-3.2C-13.5,-8 -17.3,-17 -17.3,-29Z" fill="#edb27a"/><path d="M-17.6,-22C-18,-30 -12,-37 8,-39C12,-37 18,-30 17.6,-22L20,-27C22.5,-40 14,-52 0,-52C-14,-52 -22.5,-40 -20,-27Z" fill="#ecd97c"/><path d="M-17,-30C-24,-28 -28.5,-14 -29.5,-2C-30.5,10 -28,22 -22,32C-20,24 -19.5,16 -19,8C-18.5,0 -16.5,-8 -14.5,-14C-16,-18 -17,-24 -17,-30Z" fill="#ecd97c"/></g>
<use href="#p8" x="-8.5" y="-3" filter="url(#sh)"/>
<g id="p8" transform="translate(213.3,198)"><path d="M-29.8,107L29.8,107L30,147L24.3,262L5.3,262L1.3,137L-1.3,137L-5.3,262L-24.3,262L-30,147Z" fill="#02032e"/><rect x="-29.8" y="106" width="59.6" height="3.6" fill="#141412"/><rect x="-4.3" y="106.4" width="8.6" height="3.6" fill="none" stroke="#cfcfcf" stroke-width=".7"/><path d="M-24.8,270L-4.6,270L-5.2,263.2C-8,260.2 -21,260.2 -24.2,263.2Z" fill="#5b3a22"/><path d="M24.8,270L4.6,270L5.2,263.2C8,260.2 21,260.2 24.2,263.2Z" fill="#5b3a22"/><path d="M-10.8,-14L10.8,-14L10.8,14L-10.8,14Z" fill="#f2d6ac"/><path d="M-10.8,-8L10.8,-8L10.8,3C5.4,8 -5.4,8 -10.8,3Z" fill="#dfc096"/><path d="M-29,20L-35,16.5C-39.5,18 -41.3,24 -41.6,32L-44.6,82L-42.2,125L-32.4,125L-31,70Z" fill="url(#chkR)"/><path d="M29,20L35,16.5C39.5,18 41.3,24 41.6,32L44.6,82L42.2,125L32.4,125L31,70Z" fill="url(#chkR)"/><path d="M-42.2,124.5L-32.6,124.5C-31.3,132 -32.1,140 -35.3,142.5C-39.3,143.5 -42.9,136 -42.2,124.5Z" fill="#f2d6ac"/><path d="M42.2,124.5L32.6,124.5C31.3,132 32.1,140 35.3,142.5C39.3,143.5 42.9,136 42.2,124.5Z" fill="#f2d6ac"/><path d="M-13.5,8.5C-23,11.5 -31,14 -35.5,16.5L-31,45L-29.6,107L29.6,107L31,45L35.5,16.5C31,14 23,11.5 13.5,8.5Z" fill="url(#chkR)"/><path d="M-30.6,46L-31.6,46L-31.2,107L-29.6,107Z" fill="rgba(0,0,0,.16)"/><path d="M30.6,46L31.6,46L31.2,107L29.6,107Z" fill="rgba(0,0,0,.16)"/><path d="M-11,2L0,17L11,2L11,10L-11,10Z" fill="#f2d6ac"/><path d="M-10.5,3L0,16.5L10.5,3L10.5,-4L-10.5,-4Z" fill="#dfc096"/><path d="M-10,-0.5L-15.5,8L-7.5,22L-0.3,15.5Z" fill="url(#chkR)"/><path d="M10,-0.5L15.5,8L7.5,22L0.3,15.5Z" fill="url(#chkR)"/><ellipse cx="-19.4" cy="-26" rx="3.2" ry="5.8" fill="#f2d6ac"/><ellipse cx="19.4" cy="-26" rx="3.2" ry="5.8" fill="#f2d6ac"/><path d="M-19,-30C-19,-47 -11,-55.5 0,-55.5C11,-55.5 19,-47 19,-30C19,-18 14.5,-8.5 9.5,-3.2C6.5,-0.6 3,0 0,0C-3,0 -6.5,-0.6 -9.5,-3.2C-14.5,-8.5 -19,-18 -19,-30Z" fill="#f2d6ac"/><path d="M-19,-32C-19,-48 -11,-55.5 0,-55.5C11,-55.5 19,-48 19,-32C16,-39 12,-43 8,-43.5C4.5,-43.8 2,-41.5 0,-41.5C-2,-41.5 -4.5,-43.8 -8,-43.5C-12,-43 -16,-39 -19,-32Z" fill="#dcc39a"/><path d="M-7.5,-11C-4,-14.2 4,-14.2 7.5,-11C8.8,-6 6.5,-0.4 0,0.4C-6.5,-0.4 -8.8,-6 -7.5,-11Z" fill="#3f2a1d"/><path d="M-2.6,-9C-1.2,-9.8 1.2,-9.8 2.6,-9C2.6,-7 1.8,-5.6 0,-5.4C-1.8,-5.6 -2.6,-7 -2.6,-9Z" fill="#efcaa6"/><path d="M-1.6,-29.5L-17.6,-29.5C-17.9,-24.0 -17,-20.9 -15.5,-19.5C-14,-18.3 -11,-18.3 -9,-18.3C-6.5,-18.3 -4.6,-18.9 -3.4,-20.5C-2,-22.5 -1.7,-25.5 -1.6,-29.5Z" fill="none" stroke="#1d1d1b" stroke-width="1.3" stroke-linejoin="round"/><path d="M1.6,-29.5L17.6,-29.5C17.9,-24.0 17,-20.9 15.5,-19.5C14,-18.3 11,-18.3 9,-18.3C6.5,-18.3 4.6,-18.9 3.4,-20.5C2,-22.5 1.7,-25.5 1.6,-29.5Z" fill="none" stroke="#1d1d1b" stroke-width="1.3" stroke-linejoin="round"/><path d="M-18.6,-31.12L18.6,-31.12L18.6,-29.08L-18.6,-29.08Z" fill="#1d1d1b"/></g>
<use href="#p9" x="-8.5" y="-3" filter="url(#sh)"/>
<g id="p9" transform="translate(352.4,198.1)"><path d="M-29.8,107L29.8,107L30,147L24.3,262L5.3,262L1.3,137L-1.3,137L-5.3,262L-24.3,262L-30,147Z" fill="#02032e"/><rect x="-29.8" y="106" width="59.6" height="3.6" fill="#141412"/><rect x="-4.3" y="106.4" width="8.6" height="3.6" fill="none" stroke="#cfcfcf" stroke-width=".7"/><path d="M-24.8,270L-4.6,270L-5.2,263.2C-8,260.2 -21,260.2 -24.2,263.2Z" fill="#5b3a22"/><path d="M24.8,270L4.6,270L5.2,263.2C8,260.2 21,260.2 24.2,263.2Z" fill="#5b3a22"/><path d="M-10.8,-14L10.8,-14L10.8,14L-10.8,14Z" fill="#f2d6ac"/><path d="M-10.8,-8L10.8,-8L10.8,3C5.4,8 -5.4,8 -10.8,3Z" fill="#dfc096"/><path d="M-31,40L-42,40L-44.4,82L-42,125L-33,125L-31.5,70Z" fill="#f2d6ac"/><path d="M-29,20L-35,16.5C-39.5,18 -41.3,24 -41.6,32L-43,50L-30.5,52Z" fill="#8dc7ea"/><path d="M31,40L42,40L44.4,82L42,125L33,125L31.5,70Z" fill="#f2d6ac"/><path d="M29,20L35,16.5C39.5,18 41.3,24 41.6,32L43,50L30.5,52Z" fill="#8dc7ea"/><path d="M-42.2,124.5L-32.6,124.5C-31.3,132 -32.1,140 -35.3,142.5C-39.3,143.5 -42.9,136 -42.2,124.5Z" fill="#f2d6ac"/><path d="M42.2,124.5L32.6,124.5C31.3,132 32.1,140 35.3,142.5C39.3,143.5 42.9,136 42.2,124.5Z" fill="#f2d6ac"/><path d="M-13.5,8.5C-23,11.5 -31,14 -35.5,16.5L-31,45L-29.6,107L29.6,107L31,45L35.5,16.5C31,14 23,11.5 13.5,8.5Z" fill="#8dc7ea"/><path d="M-30.6,46L-31.6,46L-31.2,107L-29.6,107Z" fill="rgba(0,0,0,.16)"/><path d="M30.6,46L31.6,46L31.2,107L29.6,107Z" fill="rgba(0,0,0,.16)"/><path d="M-13.5,8.5C-8,16 8,16 13.5,8.5L10.5,7C6,12 -6,12 -10.5,7Z" fill="rgba(0,0,0,.10)"/><path d="M-10.8,6.5C-6,12 6,12 10.8,6.5L10.8,0L-10.8,0Z" fill="#f2d6ac"/><path d="M-10.8,3C-5,8 5,8 10.8,3L10.8,-6L-10.8,-6Z" fill="#dfc096"/><ellipse cx="-19.4" cy="-26" rx="3.2" ry="5.8" fill="#f2d6ac"/><ellipse cx="19.4" cy="-26" rx="3.2" ry="5.8" fill="#f2d6ac"/><path d="M-19,-30C-19,-47 -11,-55.5 0,-55.5C11,-55.5 19,-47 19,-30C19,-18 14.5,-8.5 9.5,-3.2C6.5,-0.6 3,0 0,0C-3,0 -6.5,-0.6 -9.5,-3.2C-14.5,-8.5 -19,-18 -19,-30Z" fill="#f2d6ac"/><path d="M-19.7,-25C-20,-32 -22.5,-38 -22.5,-42C-25,-46 -24,-51 -20,-54.5C-14,-59 -7,-60.5 -1,-60.5C6,-60.5 12,-59 16,-56C21,-54 24,-50 23.6,-46C23.5,-40 22.5,-34 19.6,-25L18.5,-33C17.5,-38 15.5,-42 12,-45C8,-41.5 3,-41 -1,-41.5C-6,-41 -12,-39 -15.6,-36C-17,-35 -18,-33.5 -18,-32Z" fill="#3f2a1d"/></g>
<use href="#p10" x="-8.5" y="-3" filter="url(#sh)"/>
<g id="p10" transform="translate(497.2,198.1)"><path d="M-29.8,107L29.8,107L30,147L24.3,262L5.3,262L1.3,137L-1.3,137L-5.3,262L-24.3,262L-30,147Z" fill="#1d1d1b"/><rect x="-29.8" y="106" width="59.6" height="3.6" fill="#141412"/><rect x="-4.3" y="106.4" width="8.6" height="3.6" fill="none" stroke="#cfcfcf" stroke-width=".7"/><path d="M-24.8,270L-4.6,270L-5.2,263.2C-8,260.2 -21,260.2 -24.2,263.2Z" fill="#5b3a22"/><path d="M24.8,270L4.6,270L5.2,263.2C8,260.2 21,260.2 24.2,263.2Z" fill="#5b3a22"/><path d="M-10.8,-14L10.8,-14L10.8,14L-10.8,14Z" fill="#f2d6ac"/><path d="M-10.8,-8L10.8,-8L10.8,3C5.4,8 -5.4,8 -10.8,3Z" fill="#dfc096"/><path d="M-29,20L-35,16.5C-39.5,18 -41.3,24 -41.6,32L-44.6,82L-42.2,125L-32.4,125L-31,70Z" fill="#f2f0e2"/><path d="M29,20L35,16.5C39.5,18 41.3,24 41.6,32L44.6,82L42.2,125L32.4,125L31,70Z" fill="#f2f0e2"/><path d="M-42.2,124.5L-32.6,124.5C-31.3,132 -32.1,140 -35.3,142.5C-39.3,143.5 -42.9,136 -42.2,124.5Z" fill="#f2d6ac"/><path d="M42.2,124.5L32.6,124.5C31.3,132 32.1,140 35.3,142.5C39.3,143.5 42.9,136 42.2,124.5Z" fill="#f2d6ac"/><path d="M-13.5,8.5C-23,11.5 -31,14 -35.5,16.5L-31,45L-29.6,107L29.6,107L31,45L35.5,16.5C31,14 23,11.5 13.5,8.5Z" fill="#f2f0e2"/><path d="M-30.6,46L-31.6,46L-31.2,107L-29.6,107Z" fill="rgba(0,0,0,.16)"/><path d="M30.6,46L31.6,46L31.2,107L29.6,107Z" fill="rgba(0,0,0,.16)"/><path d="M-11,2L0,17L11,2L11,10L-11,10Z" fill="#f2d6ac"/><path d="M-10.5,3L0,16.5L10.5,3L10.5,-4L-10.5,-4Z" fill="#dfc096"/><path d="M-10,-0.5L-15.5,8L-7.5,22L-0.3,15.5Z" fill="#ffffff"/><path d="M10,-0.5L15.5,8L7.5,22L0.3,15.5Z" fill="#ffffff"/><path d="M-3.1,13L3.1,13L4,17L2.6,20.5L3.3,107L-3.3,107L-2.6,20.5L-4,17Z" fill="#02032e"/><ellipse cx="-19.4" cy="-26" rx="3.2" ry="5.8" fill="#f2d6ac"/><ellipse cx="19.4" cy="-26" rx="3.2" ry="5.8" fill="#f2d6ac"/><path d="M-19,-30C-19,-47 -11,-55.5 0,-55.5C11,-55.5 19,-47 19,-30C19,-18 14.5,-8.5 9.5,-3.2C6.5,-0.6 3,0 0,0C-3,0 -6.5,-0.6 -9.5,-3.2C-14.5,-8.5 -19,-18 -19,-30Z" fill="#f2d6ac"/><path d="M-19.8,-24C-20.5,-32 -21,-40 -20.5,-45C-20,-53 -14,-57.5 -6,-57.8C-3,-58.3 6,-58.3 10,-56.8C17,-54.8 20.5,-50 20.5,-44C21,-38 20.5,-30 19.8,-24L18,-31C17.5,-34.5 16,-36 13,-36.5C8,-35.5 4,-38 0,-38C-4,-38 -8,-35.5 -13,-36.5C-16,-36 -17.5,-34.5 -18,-31Z" fill="#1d1d1b"/></g>
<use href="#p11" x="-8.5" y="-3" filter="url(#sh)"/>
<g id="p11" transform="translate(634.5,198.1)"><path d="M-29.8,107L29.8,107L30,147L24.3,262L5.3,262L1.3,137L-1.3,137L-5.3,262L-24.3,262L-30,147Z" fill="#1d1d1b"/><rect x="-29.8" y="106" width="59.6" height="3.6" fill="#141412"/><rect x="-4.3" y="106.4" width="8.6" height="3.6" fill="none" stroke="#cfcfcf" stroke-width=".7"/><path d="M-24.8,270L-4.6,270L-5.2,263.2C-8,260.2 -21,260.2 -24.2,263.2Z" fill="#5b3a22"/><path d="M24.8,270L4.6,270L5.2,263.2C8,260.2 21,260.2 24.2,263.2Z" fill="#5b3a22"/><path d="M-10.8,-14L10.8,-14L10.8,14L-10.8,14Z" fill="#f2d6ac"/><path d="M-10.8,-8L10.8,-8L10.8,3C5.4,8 -5.4,8 -10.8,3Z" fill="#dfc096"/><path d="M-31,40L-42,40L-44.4,82L-42,125L-33,125L-31.5,70Z" fill="#f2d6ac"/><path d="M-29,20L-35,16.5C-39.5,18 -41.3,24 -41.6,32L-43,50L-30.5,52Z" fill="#2a3a72"/><path d="M31,40L42,40L44.4,82L42,125L33,125L31.5,70Z" fill="#f2d6ac"/><path d="M29,20L35,16.5C39.5,18 41.3,24 41.6,32L43,50L30.5,52Z" fill="#2a3a72"/><path d="M-42.2,124.5L-32.6,124.5C-31.3,132 -32.1,140 -35.3,142.5C-39.3,143.5 -42.9,136 -42.2,124.5Z" fill="#f2d6ac"/><path d="M42.2,124.5L32.6,124.5C31.3,132 32.1,140 35.3,142.5C39.3,143.5 42.9,136 42.2,124.5Z" fill="#f2d6ac"/><path d="M-13.5,8.5C-23,11.5 -31,14 -35.5,16.5L-31,45L-29.6,107L29.6,107L31,45L35.5,16.5C31,14 23,11.5 13.5,8.5Z" fill="#2a3a72"/><path d="M-30.6,46L-31.6,46L-31.2,107L-29.6,107Z" fill="rgba(0,0,0,.16)"/><path d="M30.6,46L31.6,46L31.2,107L29.6,107Z" fill="rgba(0,0,0,.16)"/><path d="M-13.5,8.5C-8,16 8,16 13.5,8.5L10.5,7C6,12 -6,12 -10.5,7Z" fill="rgba(0,0,0,.10)"/><path d="M-10.8,6.5C-6,12 6,12 10.8,6.5L10.8,0L-10.8,0Z" fill="#f2d6ac"/><path d="M-10.8,3C-5,8 5,8 10.8,3L10.8,-6L-10.8,-6Z" fill="#dfc096"/><ellipse cx="-19.4" cy="-26" rx="3.2" ry="5.8" fill="#f2d6ac"/><ellipse cx="19.4" cy="-26" rx="3.2" ry="5.8" fill="#f2d6ac"/><path d="M-19,-30C-19,-47 -11,-55.5 0,-55.5C11,-55.5 19,-47 19,-30C19,-18 14.5,-8.5 9.5,-3.2C6.5,-0.6 3,0 0,0C-3,0 -6.5,-0.6 -9.5,-3.2C-14.5,-8.5 -19,-18 -19,-30Z" fill="#f2d6ac"/><path d="M-18.6,-24C-21.86,-34 -22.79,-46 -17.67,-54C-13.02,-60.5 -5.58,-62 0,-62C5.58,-62 13.02,-60.5 17.67,-54C22.79,-46 21.86,-34 18.6,-24L18.2,-31C18,-35 16.5,-37.5 14,-39C8,-36.5 -8,-36.5 -14,-39C-16.5,-37.5 -18,-35 -18.2,-31Z" fill="#3f2a1d"/><path d="M-19.6,-30L-18.6,-19C-17.5,-8 -8,1 0,1C8,1 17.5,-8 18.6,-19L19.6,-30L17,-22C13.5,-14.5 9,-13.5 5.5,-16.8C2,-18.3 -2,-18.3 -5.5,-16.8C-9,-13.5 -13.5,-14.5 -17,-22Z" fill="#3f2a1d"/><rect x="-4.6" y="-13.2" width="9.2" height="2.9" rx="1.4" fill="#f2d6ac"/></g>
<use href="#p12" x="-8.5" y="-3" filter="url(#sh)"/>
<g id="p12" transform="translate(419.4,221.5)"><path d="M0,-50C-16,-50 -23.5,-38 -23.5,-26C-23.5,-12 -22.0,-4 -18.5,-3L-10,-8L10,-8L18.5,-3C22.0,-4 23.5,-12 23.5,-26C23.5,-38 16,-50 0,-50Z" fill="#ecd97c"/><path d="M-19.5,144C-18.5,168 -15.8,182 -16,192C-17.6,206 -14.5,220 -12.2,234L-12.4,241L-3.6,241L-4,234C-3,220 -1.2,206 -1.6,192C-1,178 -0.4,162 -0.4,144Z" fill="#edb27a"/><path d="M-14,243L-2.4,243L-3.2,237.2C-5.5,239.6 -10.5,239.6 -12.8,236.6Z" fill="#02032e"/><path d="M19.5,144C18.5,168 15.8,182 16,192C17.6,206 14.5,220 12.2,234L12.4,241L3.6,241L4,234C3,220 1.2,206 1.6,192C1,178 0.4,162 0.4,144Z" fill="#edb27a"/><path d="M14,243L2.4,243L3.2,237.2C5.5,239.6 10.5,239.6 12.8,236.6Z" fill="#02032e"/><path d="M-23,83.5L23,83.5C27.5,102 26.5,128 21,148C10,150.2 -10,150.2 -21,148C-26.5,128 -27.5,102 -23,83.5Z" fill="#1d1d1b"/><path d="M-7.6,-14L7.6,-14L7.6,12L-7.6,12Z" fill="#edb27a"/><path d="M-7.6,-8L7.6,-8L7.6,3C3.8,8 -3.8,8 -7.6,3Z" fill="#d99c63"/><path d="M-24,16L-29,11.5C-33,13 -34.8,18 -35,24L-37.5,82L-38.3,100L-30.6,100L-28.5,72L-24.5,42Z" fill="#e04e2f"/><path d="M-38.3,99.5L-30.6,99.5C-29.6,106 -30.2,112.5 -33,115.5C-36.5,116.5 -39,110 -38.3,99.5Z" fill="#edb27a"/><path d="M24,16L29,11.5C33,13 34.8,18 35,24L37.5,82L38.3,100L30.6,100L28.5,72L24.5,42Z" fill="#e04e2f"/><path d="M38.3,99.5L30.6,99.5C29.6,106 30.2,112.5 33,115.5C36.5,116.5 39,110 38.3,99.5Z" fill="#edb27a"/><path d="M-9,4L9,4L16,10L13,30L-13,30L-16,10Z" fill="#edb27a"/><path d="M-8,1C-4,7 4,7 8,1L8,-6L-8,-6Z" fill="#d99c63"/><path d="M-14,8C-18,9 -25,10 -29,11.5L-25,40C-23,50 -19,58 -18.5,65C-18.5,72 -21.5,78 -22.6,84 L22.6,84 C21.5,78 18.5,72 18.5,65C19,58 23,50 25,40L29,11.5C25,10 18,9 14,8C13.5,32 -13.5,32 -14,8Z" fill="#e04e2f"/><path d="M-24.6,42L-25.4,42L-29,72L-28.4,72Z" fill="rgba(0,0,0,.10)"/><path d="M24.6,42L25.4,42L29,72L28.4,72Z" fill="rgba(0,0,0,.10)"/><ellipse cx="-18" cy="-24.5" rx="3.1" ry="5.4" fill="#edb27a"/><ellipse cx="18" cy="-24.5" rx="3.1" ry="5.4" fill="#edb27a"/><path d="M-17.3,-29C-17.3,-41 -10,-46.5 0,-46.5C10,-46.5 17.3,-41 17.3,-29C17.3,-17 13.5,-8 9,-3.2C6,-0.4 3,0.3 0,0.3C-3,0.3 -6,-0.4 -9,-3.2C-13.5,-8 -17.3,-17 -17.3,-29Z" fill="#edb27a"/><path d="M-18.6,-29C-10,-27.2 10,-27.2 18.6,-29L20,-27C22,-38 14,-48.5 0,-48.5C-14,-48.5 -22,-38 -20,-27Z" fill="#efe08f"/><path d="M1,-47.5C4,-40.5 6.5,-37 7.5,-28.2L10.5,-28.5C9.5,-39 6,-41.5 1,-47.5Z" fill="rgba(255,255,255,.13)"/><path d="M-1.6,-25.2L-17.4,-27.2C-16.8,-21 -13,-17.2 -8,-17.2C-4,-17.2 -1.8,-20.5 -1.6,-25.2Z" fill="none" stroke="#2a2220" stroke-width="1.3" stroke-linejoin="round"/><path d="M1.6,-25.2L17.4,-27.2C16.8,-21 13,-17.2 8,-17.2C4,-17.2 1.8,-20.5 1.6,-25.2Z" fill="none" stroke="#2a2220" stroke-width="1.3" stroke-linejoin="round"/><path d="M-2,-25.6L2,-25.6L2,-24.2L-2,-24.2Z" fill="#2a2220"/></g>
<use href="#p13" x="-8.5" y="-3" filter="url(#sh)"/>
<g id="p13" transform="translate(282.6,223.3)"><path d="M0,-53.5C-17,-53.5 -27,-43.5 -27.5,-28C-28,-14 -30.5,-2 -30,10C-29.5,20 -26,28 -22,32L-12,26L-9,-4L9,-4L16.5,1C22,-6 25,-16 24.5,-28C24,-43.5 17,-53.5 0,-53.5Z" fill="#ecd97c"/><path d="M-19.5,144C-18.5,168 -15.8,182 -16,192C-17.6,206 -14.5,220 -12.2,234L-12.4,241L-3.6,241L-4,234C-3,220 -1.2,206 -1.6,192C-1,178 -0.4,162 -0.4,144Z" fill="#edb27a"/><path d="M-14,243L-2.4,243L-3.2,237.2C-5.5,239.6 -10.5,239.6 -12.8,236.6Z" fill="#02032e"/><path d="M19.5,144C18.5,168 15.8,182 16,192C17.6,206 14.5,220 12.2,234L12.4,241L3.6,241L4,234C3,220 1.2,206 1.6,192C1,178 0.4,162 0.4,144Z" fill="#edb27a"/><path d="M14,243L2.4,243L3.2,237.2C5.5,239.6 10.5,239.6 12.8,236.6Z" fill="#02032e"/><path d="M-23,83.5L23,83.5C27.5,102 26.5,128 21,148C10,150.2 -10,150.2 -21,148C-26.5,128 -27.5,102 -23,83.5Z" fill="#02032e"/><path d="M-7.6,-14L7.6,-14L7.6,12L-7.6,12Z" fill="#edb27a"/><path d="M-7.6,-8L7.6,-8L7.6,3C3.8,8 -3.8,8 -7.6,3Z" fill="#d99c63"/><path d="M-24,16L-29,11.5C-33,13 -34.8,18 -35,24L-37.5,82L-38.3,100L-30.6,100L-28.5,72L-24.5,42Z" fill="#f2f0e2"/><path d="M-38.3,99.5L-30.6,99.5C-29.6,106 -30.2,112.5 -33,115.5C-36.5,116.5 -39,110 -38.3,99.5Z" fill="#edb27a"/><path d="M24,16L29,11.5C33,13 34.8,18 35,24L37.5,82L38.3,100L30.6,100L28.5,72L24.5,42Z" fill="#f2f0e2"/><path d="M38.3,99.5L30.6,99.5C29.6,106 30.2,112.5 33,115.5C36.5,116.5 39,110 38.3,99.5Z" fill="#edb27a"/><path d="M-9,4L9,4L16,10L13,34L-13,34L-16,10Z" fill="#edb27a"/><path d="M-8,1C-4,7 4,7 8,1L8,-6L-8,-6Z" fill="#d99c63"/><path d="M-9,7C-16,8.5 -25,10 -29,11.5L-25,40C-23,50 -19,58 -18.5,65C-18.5,72 -21.5,78 -22.6,84 L22.6,84 C21.5,78 18.5,72 18.5,65C19,58 23,50 25,40L29,11.5C25,10 16,8.5 9,7L0,30Z" fill="#f2f0e2"/><path d="M-24.6,42L-25.4,42L-29,72L-28.4,72Z" fill="rgba(0,0,0,.10)"/><path d="M24.6,42L25.4,42L29,72L28.4,72Z" fill="rgba(0,0,0,.10)"/><ellipse cx="-18" cy="-24.5" rx="3.1" ry="5.4" fill="#edb27a"/><ellipse cx="18" cy="-24.5" rx="3.1" ry="5.4" fill="#edb27a"/><path d="M-17.3,-29C-17.3,-41 -10,-46.5 0,-46.5C10,-46.5 17.3,-41 17.3,-29C17.3,-17 13.5,-8 9,-3.2C6,-0.4 3,0.3 0,0.3C-3,0.3 -6,-0.4 -9,-3.2C-13.5,-8 -17.3,-17 -17.3,-29Z" fill="#edb27a"/><path d="M-17.6,-22C-18,-30 -12,-37 9,-39C12,-37 18,-30 17.6,-22L20,-27C22.5,-40 14,-52 0,-52C-14,-52 -22.5,-40 -20,-27Z" fill="#ecd97c"/><path d="M-17,-30C-24,-28 -28.5,-14 -29.5,-2C-30.5,10 -28,22 -22,32C-20,24 -19.5,16 -19,8C-18.5,0 -16.5,-8 -14.5,-14C-16,-18 -17,-24 -17,-30Z" fill="#ecd97c"/></g>
<use href="#p14" x="-8.5" y="-3" filter="url(#sh)"/>
<g id="p14" transform="translate(567.4,224.7)"><path d="M0,-55C-16,-55 -27,-43 -27,-26C-27,-12 -25.5,-4 -22,4L-10,-1L10,-1L22,4C25.5,-4 27,-12 27,-26C27,-43 16,-55 0,-55Z" fill="#1d1d1b"/><path d="M-19.5,144C-18.5,168 -15.8,182 -16,192C-17.6,206 -14.5,220 -12.2,234L-12.4,241L-3.6,241L-4,234C-3,220 -1.2,206 -1.6,192C-1,178 -0.4,162 -0.4,144Z" fill="#f2d6ac"/><path d="M-14,243L-2.4,243L-3.2,237.2C-5.5,239.6 -10.5,239.6 -12.8,236.6Z" fill="#02032e"/><path d="M19.5,144C18.5,168 15.8,182 16,192C17.6,206 14.5,220 12.2,234L12.4,241L3.6,241L4,234C3,220 1.2,206 1.6,192C1,178 0.4,162 0.4,144Z" fill="#f2d6ac"/><path d="M14,243L2.4,243L3.2,237.2C5.5,239.6 10.5,239.6 12.8,236.6Z" fill="#02032e"/><path d="M-23,83.5L23,83.5C27.5,102 26.5,128 21,148C10,150.2 -10,150.2 -21,148C-26.5,128 -27.5,102 -23,83.5Z" fill="#1d1d1b"/><path d="M-7.6,-14L7.6,-14L7.6,12L-7.6,12Z" fill="#f2d6ac"/><path d="M-7.6,-8L7.6,-8L7.6,3C3.8,8 -3.8,8 -7.6,3Z" fill="#dfc096"/><path d="M-24,16L-29,11.5C-33,13 -34.8,18 -35,24L-37.5,82L-38.3,100L-30.6,100L-28.5,72L-24.5,42Z" fill="#1d1d1b"/><path d="M-38.3,99.5L-30.6,99.5C-29.6,106 -30.2,112.5 -33,115.5C-36.5,116.5 -39,110 -38.3,99.5Z" fill="#f2d6ac"/><path d="M24,16L29,11.5C33,13 34.8,18 35,24L37.5,82L38.3,100L30.6,100L28.5,72L24.5,42Z" fill="#1d1d1b"/><path d="M38.3,99.5L30.6,99.5C29.6,106 30.2,112.5 33,115.5C36.5,116.5 39,110 38.3,99.5Z" fill="#f2d6ac"/><path d="M-9,4L9,4L16,10L13,18L-13,18L-16,10Z" fill="#f2d6ac"/><path d="M-8,1C-4,7 4,7 8,1L8,-6L-8,-6Z" fill="#dfc096"/><path d="M-9,7C-16,8.5 -25,10 -29,11.5L-25,40C-23,50 -19,58 -18.5,65C-18.5,72 -21.5,78 -22.6,84 L22.6,84 C21.5,78 18.5,72 18.5,65C19,58 23,50 25,40L29,11.5C25,10 16,8.5 9,7C6,14 -6,14 -9,7Z" fill="#1d1d1b"/><path d="M-24.6,42L-25.4,42L-29,72L-28.4,72Z" fill="rgba(0,0,0,.10)"/><path d="M24.6,42L25.4,42L29,72L28.4,72Z" fill="rgba(0,0,0,.10)"/><ellipse cx="-18" cy="-24.5" rx="3.1" ry="5.4" fill="#f2d6ac"/><ellipse cx="18" cy="-24.5" rx="3.1" ry="5.4" fill="#f2d6ac"/><path d="M-17.3,-29C-17.3,-41 -10,-46.5 0,-46.5C10,-46.5 17.3,-41 17.3,-29C17.3,-17 13.5,-8 9,-3.2C6,-0.4 3,0.3 0,0.3C-3,0.3 -6,-0.4 -9,-3.2C-13.5,-8 -17.3,-17 -17.3,-29Z" fill="#f2d6ac"/><path d="M-17.6,-22C-18,-30 -12,-37 -4,-39C12,-37 18,-30 17.6,-22L20,-27C22.5,-40 14,-53 0,-53C-14,-53 -22.5,-40 -20,-27Z" fill="#1d1d1b"/></g>
<use href="#p15" x="-8.5" y="-3" filter="url(#sh)"/>
<g id="p15" transform="translate(699.5,224.7)"><path d="M0,-54.5C-18,-54.5 -25.5,-42.5 -25.5,-28C-26.5,-10 -24.5,5 -20.5,12L-9,6L-9,-4L9,-4L9,6L20.5,12C24.5,5 26.5,-10 25.5,-28C25.5,-42.5 18,-54.5 0,-54.5Z" fill="#3f2a1d"/><path d="M-12.4,227.8L-12.6,237.8L-3.4,237.8L-3.8,227.8Z" fill="#f2d6ac"/><path d="M-14,239.8L-2.4,239.8L-3.2,234.0C-5.5,236.4 -10.5,236.4 -12.8,233.4Z" fill="#02032e"/><path d="M12.4,227.8L12.6,237.8L3.4,237.8L3.8,227.8Z" fill="#f2d6ac"/><path d="M14,239.8L2.4,239.8L3.2,234.0C5.5,236.4 10.5,236.4 12.8,233.4Z" fill="#02032e"/><path d="M-22.5,81.5L22.5,81.5C25.5,100 25,122 22,144C19.5,166 17,178 17.2,190C18.2,204 15.4,212.8 13,228.8L3.6,228.8C3,214.8 1.6,204 1.8,190C1.6,162 1.3,132 1.2,108L-1.2,108C-1.3,132 -1.6,162 -1.8,190C-1.6,204 -3,214.8 -3.6,228.8L-13,228.8C-15.4,212.8 -18.2,204 -17.2,190C-17,178 -19.5,166 -22,144C-25,122 -25.5,100 -22.5,81.5Z" fill="#02032e"/><path d="M-7.6,-14L7.6,-14L7.6,12L-7.6,12Z" fill="#f2d6ac"/><path d="M-7.6,-8L7.6,-8L7.6,3C3.8,8 -3.8,8 -7.6,3Z" fill="#dfc096"/><path d="M-24,16L-29,11.5C-33,13 -34.8,18 -35,24L-37.5,82L-38.3,100L-30.6,100L-28.5,72L-24.5,42Z" fill="#4e8682"/><path d="M-38.3,99.5L-30.6,99.5C-29.6,106 -30.2,112.5 -33,115.5C-36.5,116.5 -39,110 -38.3,99.5Z" fill="#f2d6ac"/><path d="M24,16L29,11.5C33,13 34.8,18 35,24L37.5,82L38.3,100L30.6,100L28.5,72L24.5,42Z" fill="#4e8682"/><path d="M38.3,99.5L30.6,99.5C29.6,106 30.2,112.5 33,115.5C36.5,116.5 39,110 38.3,99.5Z" fill="#f2d6ac"/><path d="M-9,4L9,4L16,10L13,34L-13,34L-16,10Z" fill="#f2d6ac"/><path d="M-8,1C-4,7 4,7 8,1L8,-6L-8,-6Z" fill="#dfc096"/><path d="M-9,7C-16,8.5 -25,10 -29,11.5L-25,40C-23,50 -19,58 -18.5,65C-18.5,72 -21.5,78 -22.6,82 L22.6,82 C21.5,78 18.5,72 18.5,65C19,58 23,50 25,40L29,11.5C25,10 16,8.5 9,7L0,30Z" fill="#4e8682"/><path d="M-24.6,42L-25.4,42L-29,72L-28.4,72Z" fill="rgba(0,0,0,.10)"/><path d="M24.6,42L25.4,42L29,72L28.4,72Z" fill="rgba(0,0,0,.10)"/><ellipse cx="-18" cy="-24.5" rx="3.1" ry="5.4" fill="#f2d6ac"/><ellipse cx="18" cy="-24.5" rx="3.1" ry="5.4" fill="#f2d6ac"/><path d="M-17.3,-29C-17.3,-41 -10,-46.5 0,-46.5C10,-46.5 17.3,-41 17.3,-29C17.3,-17 13.5,-8 9,-3.2C6,-0.4 3,0.3 0,0.3C-3,0.3 -6,-0.4 -9,-3.2C-13.5,-8 -17.3,-17 -17.3,-29Z" fill="#f2d6ac"/><path d="M-17.6,-22C-18,-30 -12,-37 6,-39C12,-37 18,-30 17.6,-22L20,-27C22.5,-40 14,-52 0,-52C-14,-52 -22.5,-40 -20,-27Z" fill="#3f2a1d"/></g>
<use href="#p16" x="-8.5" y="-3" filter="url(#sh)"/>
<g id="p16" transform="translate(115.1,244.4)"><path d="M-29.8,107L29.8,107L30,147L24.3,257.6L5.3,257.6L1.3,137L-1.3,137L-5.3,257.6L-24.3,257.6L-30,147Z" fill="#1d1d1b"/><rect x="-29.8" y="106" width="59.6" height="3.6" fill="#141412"/><rect x="-4.3" y="106.4" width="8.6" height="3.6" fill="none" stroke="#cfcfcf" stroke-width=".7"/><path d="M-24.8,265.6L-4.6,265.6L-5.2,258.8C-8,255.8 -21,255.8 -24.2,258.8Z" fill="#1a1a18"/><path d="M24.8,265.6L4.6,265.6L5.2,258.8C8,255.8 21,255.8 24.2,258.8Z" fill="#1a1a18"/><path d="M-10.8,-14L10.8,-14L10.8,14L-10.8,14Z" fill="#f2d6ac"/><path d="M-10.8,-8L10.8,-8L10.8,3C5.4,8 -5.4,8 -10.8,3Z" fill="#dfc096"/><path d="M-29,20L-35,16.5C-39.5,18 -41.3,24 -41.6,32L-44.6,82L-42.2,125L-32.4,125L-31,70Z" fill="#2a3a72"/><path d="M29,20L35,16.5C39.5,18 41.3,24 41.6,32L44.6,82L42.2,125L32.4,125L31,70Z" fill="#2a3a72"/><path d="M-42.2,124.5L-32.6,124.5C-31.3,132 -32.1,140 -35.3,142.5C-39.3,143.5 -42.9,136 -42.2,124.5Z" fill="#f2d6ac"/><path d="M42.2,124.5L32.6,124.5C31.3,132 32.1,140 35.3,142.5C39.3,143.5 42.9,136 42.2,124.5Z" fill="#f2d6ac"/><path d="M-13.5,8.5C-23,11.5 -31,14 -35.5,16.5L-31,45L-29.6,107L29.6,107L31,45L35.5,16.5C31,14 23,11.5 13.5,8.5Z" fill="#2a3a72"/><path d="M-30.6,46L-31.6,46L-31.2,107L-29.6,107Z" fill="rgba(0,0,0,.16)"/><path d="M30.6,46L31.6,46L31.2,107L29.6,107Z" fill="rgba(0,0,0,.16)"/><path d="M-13.5,8.5C-8,16 8,16 13.5,8.5L10.5,7C6,12 -6,12 -10.5,7Z" fill="rgba(0,0,0,.10)"/><path d="M-10.8,6.5C-6,12 6,12 10.8,6.5L10.8,0L-10.8,0Z" fill="#f2d6ac"/><path d="M-10.8,3C-5,8 5,8 10.8,3L10.8,-6L-10.8,-6Z" fill="#dfc096"/><ellipse cx="-19.4" cy="-26" rx="3.2" ry="5.8" fill="#f2d6ac"/><ellipse cx="19.4" cy="-26" rx="3.2" ry="5.8" fill="#f2d6ac"/><path d="M-19,-30C-19,-47 -11,-55.5 0,-55.5C11,-55.5 19,-47 19,-30C19,-18 14.5,-8.5 9.5,-3.2C6.5,-0.6 3,0 0,0C-3,0 -6.5,-0.6 -9.5,-3.2C-14.5,-8.5 -19,-18 -19,-30Z" fill="#f2d6ac"/><path d="M-19.8,-24C-20.5,-32 -21,-40 -20.5,-45C-20,-53 -14,-57.5 -6,-57.8C-3,-58.3 6,-58.3 10,-56.8C17,-54.8 20.5,-50 20.5,-44C21,-38 20.5,-30 19.8,-24L18,-31C17.5,-34.5 16,-36 13,-36.5C8,-35.5 4,-38 0,-38C-4,-38 -8,-35.5 -13,-36.5C-16,-36 -17.5,-34.5 -18,-31Z" fill="#1d1d1b"/></g>
<use href="#p17" x="-8.5" y="-3" filter="url(#sh)"/>
<g id="p17" transform="translate(170.7,257.4)"><path d="M-29.8,107L29.8,107L30,147L24.3,255L5.3,255L1.3,137L-1.3,137L-5.3,255L-24.3,255L-30,147Z" fill="#02032e"/><rect x="-29.8" y="106" width="59.6" height="3.6" fill="#141412"/><rect x="-4.3" y="106.4" width="8.6" height="3.6" fill="none" stroke="#cfcfcf" stroke-width=".7"/><path d="M-24.8,263L-4.6,263L-5.2,256.2C-8,253.2 -21,253.2 -24.2,256.2Z" fill="#1a1a18"/><path d="M24.8,263L4.6,263L5.2,256.2C8,253.2 21,253.2 24.2,256.2Z" fill="#1a1a18"/><path d="M-10.8,-14L10.8,-14L10.8,14L-10.8,14Z" fill="#f2d6ac"/><path d="M-10.8,-8L10.8,-8L10.8,3C5.4,8 -5.4,8 -10.8,3Z" fill="#dfc096"/><path d="M-29,20L-35,16.5C-39.5,18 -41.3,24 -41.6,32L-44.6,82L-42.2,125L-32.4,125L-31,70Z" fill="#f2f0e2"/><path d="M29,20L35,16.5C39.5,18 41.3,24 41.6,32L44.6,82L42.2,125L32.4,125L31,70Z" fill="#f2f0e2"/><path d="M-42.2,124.5L-32.6,124.5C-31.3,132 -32.1,140 -35.3,142.5C-39.3,143.5 -42.9,136 -42.2,124.5Z" fill="#f2d6ac"/><path d="M42.2,124.5L32.6,124.5C31.3,132 32.1,140 35.3,142.5C39.3,143.5 42.9,136 42.2,124.5Z" fill="#f2d6ac"/><path d="M-13.5,8.5C-23,11.5 -31,14 -35.5,16.5L-31,45L-29.6,107L29.6,107L31,45L35.5,16.5C31,14 23,11.5 13.5,8.5Z" fill="#f2f0e2"/><path d="M-30.6,46L-31.6,46L-31.2,107L-29.6,107Z" fill="rgba(0,0,0,.16)"/><path d="M30.6,46L31.6,46L31.2,107L29.6,107Z" fill="rgba(0,0,0,.16)"/><path d="M-11,2L0,17L11,2L11,10L-11,10Z" fill="#f2d6ac"/><path d="M-10.5,3L0,16.5L10.5,3L10.5,-4L-10.5,-4Z" fill="#dfc096"/><path d="M-10,-0.5L-15.5,8L-7.5,22L-0.3,15.5Z" fill="#ffffff"/><path d="M10,-0.5L15.5,8L7.5,22L0.3,15.5Z" fill="#ffffff"/><path d="M-3.1,13L3.1,13L4,17L2.6,20.5L3.3,107L-3.3,107L-2.6,20.5L-4,17Z" fill="#02032e"/><ellipse cx="-19.4" cy="-26" rx="3.2" ry="5.8" fill="#f2d6ac"/><ellipse cx="19.4" cy="-26" rx="3.2" ry="5.8" fill="#f2d6ac"/><path d="M-19,-30C-19,-47 -11,-55.5 0,-55.5C11,-55.5 19,-47 19,-30C19,-18 14.5,-8.5 9.5,-3.2C6.5,-0.6 3,0 0,0C-3,0 -6.5,-0.6 -9.5,-3.2C-14.5,-8.5 -19,-18 -19,-30Z" fill="#f2d6ac"/><path d="M-19.8,-24C-20.5,-32 -21,-40 -20.5,-45C-20,-53 -14,-57.5 -6,-57.8C-3,-58.3 6,-58.3 10,-56.8C17,-54.8 20.5,-50 20.5,-44C21,-38 20.5,-30 19.8,-24L18,-31C17.5,-34.5 16,-36 13,-36.5C8,-35.5 4,-38 0,-38C-4,-38 -8,-35.5 -13,-36.5C-16,-36 -17.5,-34.5 -18,-31Z" fill="#000000"/><path d="M-19.6,-30L-18.6,-19C-17.5,-8 -8,1 0,1C8,1 17.5,-8 18.6,-19L19.6,-30L17,-22C13.5,-14.5 9,-13.5 5.5,-16.8C2,-18.3 -2,-18.3 -5.5,-16.8C-9,-13.5 -13.5,-14.5 -17,-22Z" fill="#000000"/><rect x="-4.6" y="-13.2" width="9.2" height="2.9" rx="1.4" fill="#f2d6ac"/></g>
<use href="#p18" x="-8.5" y="-3" filter="url(#sh)"/>
<g id="p18" transform="translate(328.2,265.2)"><path d="M-29.8,107L29.8,107L30,147L24.3,255L5.3,255L1.3,137L-1.3,137L-5.3,255L-24.3,255L-30,147Z" fill="#1d1d1b"/><rect x="-29.8" y="106" width="59.6" height="3.6" fill="#141412"/><rect x="-4.3" y="106.4" width="8.6" height="3.6" fill="none" stroke="#cfcfcf" stroke-width=".7"/><path d="M-24.8,263L-4.6,263L-5.2,256.2C-8,253.2 -21,253.2 -24.2,256.2Z" fill="#1a1a18"/><path d="M24.8,263L4.6,263L5.2,256.2C8,253.2 21,253.2 24.2,256.2Z" fill="#1a1a18"/><path d="M-10.8,-14L10.8,-14L10.8,14L-10.8,14Z" fill="#b98a5e"/><path d="M-10.8,-8L10.8,-8L10.8,3C5.4,8 -5.4,8 -10.8,3Z" fill="#a17547"/><path d="M-31,40L-42,40L-44.4,82L-42,125L-33,125L-31.5,70Z" fill="#b98a5e"/><path d="M-29,20L-35,16.5C-39.5,18 -41.3,24 -41.6,32L-43,50L-30.5,52Z" fill="#efdcc0"/><path d="M31,40L42,40L44.4,82L42,125L33,125L31.5,70Z" fill="#b98a5e"/><path d="M29,20L35,16.5C39.5,18 41.3,24 41.6,32L43,50L30.5,52Z" fill="#efdcc0"/><path d="M-42.2,124.5L-32.6,124.5C-31.3,132 -32.1,140 -35.3,142.5C-39.3,143.5 -42.9,136 -42.2,124.5Z" fill="#b98a5e"/><path d="M42.2,124.5L32.6,124.5C31.3,132 32.1,140 35.3,142.5C39.3,143.5 42.9,136 42.2,124.5Z" fill="#b98a5e"/><path d="M-13.5,8.5C-23,11.5 -31,14 -35.5,16.5L-31,45L-29.6,107L29.6,107L31,45L35.5,16.5C31,14 23,11.5 13.5,8.5Z" fill="#efdcc0"/><path d="M-30.6,46L-31.6,46L-31.2,107L-29.6,107Z" fill="rgba(0,0,0,.16)"/><path d="M30.6,46L31.6,46L31.2,107L29.6,107Z" fill="rgba(0,0,0,.16)"/><path d="M-13.5,8.5C-8,16 8,16 13.5,8.5L10.5,7C6,12 -6,12 -10.5,7Z" fill="rgba(0,0,0,.10)"/><path d="M-10.8,6.5C-6,12 6,12 10.8,6.5L10.8,0L-10.8,0Z" fill="#b98a5e"/><path d="M-10.8,3C-5,8 5,8 10.8,3L10.8,-6L-10.8,-6Z" fill="#a17547"/><ellipse cx="-20.3" cy="-26" rx="3.9" ry="6.2" fill="#b98a5e"/><ellipse cx="20.3" cy="-26" rx="3.9" ry="6.2" fill="#b98a5e"/><path d="M-19,-30C-19,-47 -11,-55.5 0,-55.5C11,-55.5 19,-47 19,-30C19,-18 14.5,-8.5 9.5,-3.2C6.5,-0.6 3,0 0,0C-3,0 -6.5,-0.6 -9.5,-3.2C-14.5,-8.5 -19,-18 -19,-30Z" fill="#b98a5e"/><path d="M-18.8,-24C-22.09,-34 -23.03,-46 -17.86,-54C-13.16,-60.5 -5.64,-62 0,-62C5.64,-62 13.16,-60.5 17.86,-54C23.03,-46 22.09,-34 18.8,-24L18.2,-31C18,-35 16.5,-37.5 14,-39C8,-36.5 -8,-36.5 -14,-39C-16.5,-37.5 -18,-35 -18.2,-31Z" fill="#1d1d1b"/></g>
<use href="#p19" x="-8.5" y="-3" filter="url(#sh)"/>
<g id="p19" transform="translate(592,265.2)"><path d="M-29.8,107L29.8,107L30,147L24.3,255L5.3,255L1.3,137L-1.3,137L-5.3,255L-24.3,255L-30,147Z" fill="#1d1d1b"/><rect x="-29.8" y="106" width="59.6" height="3.6" fill="#141412"/><rect x="-4.3" y="106.4" width="8.6" height="3.6" fill="none" stroke="#cfcfcf" stroke-width=".7"/><path d="M-24.8,263L-4.6,263L-5.2,256.2C-8,253.2 -21,253.2 -24.2,256.2Z" fill="#5b3a22"/><path d="M24.8,263L4.6,263L5.2,256.2C8,253.2 21,253.2 24.2,256.2Z" fill="#5b3a22"/><path d="M-10.8,-14L10.8,-14L10.8,14L-10.8,14Z" fill="#b98a5e"/><path d="M-10.8,-8L10.8,-8L10.8,3C5.4,8 -5.4,8 -10.8,3Z" fill="#a17547"/><path d="M-31,40L-42,40L-44.4,82L-42,125L-33,125L-31.5,70Z" fill="#b98a5e"/><path d="M-29,20L-35,16.5C-39.5,18 -41.3,24 -41.6,32L-43,50L-30.5,52Z" fill="#f7f7f7"/><path d="M31,40L42,40L44.4,82L42,125L33,125L31.5,70Z" fill="#b98a5e"/><path d="M29,20L35,16.5C39.5,18 41.3,24 41.6,32L43,50L30.5,52Z" fill="#f7f7f7"/><path d="M-42.2,124.5L-32.6,124.5C-31.3,132 -32.1,140 -35.3,142.5C-39.3,143.5 -42.9,136 -42.2,124.5Z" fill="#b98a5e"/><path d="M42.2,124.5L32.6,124.5C31.3,132 32.1,140 35.3,142.5C39.3,143.5 42.9,136 42.2,124.5Z" fill="#b98a5e"/><path d="M-13.5,8.5C-23,11.5 -31,14 -35.5,16.5L-31,45L-29.6,107L29.6,107L31,45L35.5,16.5C31,14 23,11.5 13.5,8.5Z" fill="#f7f7f7"/><path d="M-30.6,46L-31.6,46L-31.2,107L-29.6,107Z" fill="rgba(0,0,0,.16)"/><path d="M30.6,46L31.6,46L31.2,107L29.6,107Z" fill="rgba(0,0,0,.16)"/><path d="M-13.5,8.5C-8,16 8,16 13.5,8.5L10.5,7C6,12 -6,12 -10.5,7Z" fill="rgba(0,0,0,.10)"/><path d="M-10.8,6.5C-6,12 6,12 10.8,6.5L10.8,0L-10.8,0Z" fill="#b98a5e"/><path d="M-10.8,3C-5,8 5,8 10.8,3L10.8,-6L-10.8,-6Z" fill="#a17547"/><ellipse cx="-20.3" cy="-26" rx="3.9" ry="6.2" fill="#b98a5e"/><ellipse cx="20.3" cy="-26" rx="3.9" ry="6.2" fill="#b98a5e"/><path d="M-19,-30C-19,-47 -11,-55.5 0,-55.5C11,-55.5 19,-47 19,-30C19,-18 14.5,-8.5 9.5,-3.2C6.5,-0.6 3,0 0,0C-3,0 -6.5,-0.6 -9.5,-3.2C-14.5,-8.5 -19,-18 -19,-30Z" fill="#b98a5e"/><path d="M-20.8,-24C-24.44,-34 -25.48,-46 -19.76,-54C-14.56,-60.5 -6.24,-62 0,-62C6.24,-62 14.56,-60.5 19.76,-54C25.48,-46 24.44,-34 20.8,-24L18.2,-31C18,-35 16.5,-37.5 14,-39C8,-36.5 -8,-36.5 -14,-39C-16.5,-37.5 -18,-35 -18.2,-31Z" fill="#1d1d1b"/></g>
<use href="#p20" x="-8.5" y="-3" filter="url(#sh)"/>
<g id="p20" transform="translate(463.1,266.8)"><path d="M-29.8,107L29.8,107L30,147L24.3,255.60000000000002L5.3,255.60000000000002L1.3,137L-1.3,137L-5.3,255.60000000000002L-24.3,255.60000000000002L-30,147Z" fill="#02032e"/><rect x="-29.8" y="106" width="59.6" height="3.6" fill="#141412"/><rect x="-4.3" y="106.4" width="8.6" height="3.6" fill="none" stroke="#cfcfcf" stroke-width=".7"/><path d="M-24.8,263.6L-4.6,263.6L-5.2,256.8C-8,253.8 -21,253.8 -24.2,256.8Z" fill="#8a3a1a"/><path d="M24.8,263.6L4.6,263.6L5.2,256.8C8,253.8 21,253.8 24.2,256.8Z" fill="#8a3a1a"/><path d="M-10.8,-14L10.8,-14L10.8,14L-10.8,14Z" fill="#f2d6ac"/><path d="M-10.8,-8L10.8,-8L10.8,3C5.4,8 -5.4,8 -10.8,3Z" fill="#dfc096"/><path d="M-31,40L-42,40L-44.4,82L-42,125L-33,125L-31.5,70Z" fill="#f2d6ac"/><path d="M-29,20L-35,16.5C-39.5,18 -41.3,24 -41.6,32L-43,50L-30.5,52Z" fill="url(#strH)"/><path d="M31,40L42,40L44.4,82L42,125L33,125L31.5,70Z" fill="#f2d6ac"/><path d="M29,20L35,16.5C39.5,18 41.3,24 41.6,32L43,50L30.5,52Z" fill="url(#strH)"/><path d="M-42.2,124.5L-32.6,124.5C-31.3,132 -32.1,140 -35.3,142.5C-39.3,143.5 -42.9,136 -42.2,124.5Z" fill="#f2d6ac"/><path d="M42.2,124.5L32.6,124.5C31.3,132 32.1,140 35.3,142.5C39.3,143.5 42.9,136 42.2,124.5Z" fill="#f2d6ac"/><path d="M-13.5,8.5C-23,11.5 -31,14 -35.5,16.5L-31,45L-29.6,107L29.6,107L31,45L35.5,16.5C31,14 23,11.5 13.5,8.5Z" fill="url(#strH)"/><path d="M-30.6,46L-31.6,46L-31.2,107L-29.6,107Z" fill="rgba(0,0,0,.16)"/><path d="M30.6,46L31.6,46L31.2,107L29.6,107Z" fill="rgba(0,0,0,.16)"/><path d="M-13.5,8.5C-8,16 8,16 13.5,8.5L10.5,7C6,12 -6,12 -10.5,7Z" fill="rgba(0,0,0,.10)"/><path d="M-10.8,6.5C-6,12 6,12 10.8,6.5L10.8,0L-10.8,0Z" fill="#f2d6ac"/><path d="M-10.8,3C-5,8 5,8 10.8,3L10.8,-6L-10.8,-6Z" fill="#dfc096"/><ellipse cx="-19.4" cy="-26" rx="3.2" ry="5.8" fill="#f2d6ac"/><ellipse cx="19.4" cy="-26" rx="3.2" ry="5.8" fill="#f2d6ac"/><path d="M-19,-30C-19,-47 -11,-55.5 0,-55.5C11,-55.5 19,-47 19,-30C19,-18 14.5,-8.5 9.5,-3.2C6.5,-0.6 3,0 0,0C-3,0 -6.5,-0.6 -9.5,-3.2C-14.5,-8.5 -19,-18 -19,-30Z" fill="#f2d6ac"/><path d="M-19.7,-25C-20,-32 -22.5,-38 -22.5,-42C-25,-46 -24,-51 -20,-54.5C-14,-59 -7,-60.5 -1,-60.5C6,-60.5 12,-59 16,-56C21,-54 24,-50 23.6,-46C23.5,-40 22.5,-34 19.6,-25L18.5,-33C17.5,-38 15.5,-42 12,-45C8,-41.5 3,-41 -1,-41.5C-6,-41 -12,-39 -15.6,-36C-17,-35 -18,-33.5 -18,-32Z" fill="#3f2a1d"/><path d="M-7.5,-11C-4,-14.2 4,-14.2 7.5,-11C8.8,-6 6.5,-0.4 0,0.4C-6.5,-0.4 -8.8,-6 -7.5,-11Z" fill="#3f2a1d"/><path d="M-2.6,-9C-1.2,-9.8 1.2,-9.8 2.6,-9C2.6,-7 1.8,-5.6 0,-5.4C-1.8,-5.6 -2.6,-7 -2.6,-9Z" fill="#efcaa6"/><path d="M-1.6,-29.5L-17.6,-29.5C-17.9,-24.0 -17,-20.9 -15.5,-19.5C-14,-18.3 -11,-18.3 -9,-18.3C-6.5,-18.3 -4.6,-18.9 -3.4,-20.5C-2,-22.5 -1.7,-25.5 -1.6,-29.5Z" fill="none" stroke="#1d1d1b" stroke-width="1.2" stroke-linejoin="round"/><path d="M1.6,-29.5L17.6,-29.5C17.9,-24.0 17,-20.9 15.5,-19.5C14,-18.3 11,-18.3 9,-18.3C6.5,-18.3 4.6,-18.9 3.4,-20.5C2,-22.5 1.7,-25.5 1.6,-29.5Z" fill="none" stroke="#1d1d1b" stroke-width="1.2" stroke-linejoin="round"/><path d="M-18.6,-31.08L18.6,-31.08L18.6,-29.12L-18.6,-29.12Z" fill="#1d1d1b"/></g>
<use href="#p21" x="-8.5" y="-3" filter="url(#sh)"/>
<g id="p21" transform="translate(241,273.8)"><path d="M0,-52.5C-18,-52.5 -24.5,-40.5 -24.5,-28C-25.5,-10 -23.5,5 -19.5,26L-9,20L-9,-4L9,-4L9,20L19.5,26C23.5,5 25.5,-10 24.5,-28C24.5,-40.5 18,-52.5 0,-52.5Z" fill="#1d1d1b"/><path d="M-19.5,144C-18.5,168 -15.8,182 -16,192C-17.6,206 -14.5,219 -12.2,233L-12.4,240L-3.6,240L-4,233C-3,219 -1.2,206 -1.6,192C-1,178 -0.4,162 -0.4,144Z" fill="#edb27a"/><path d="M-14,242L-2.4,242L-3.2,236.2C-5.5,238.6 -10.5,238.6 -12.8,235.6Z" fill="#02032e"/><path d="M19.5,144C18.5,168 15.8,182 16,192C17.6,206 14.5,219 12.2,233L12.4,240L3.6,240L4,233C3,219 1.2,206 1.6,192C1,178 0.4,162 0.4,144Z" fill="#edb27a"/><path d="M14,242L2.4,242L3.2,236.2C5.5,238.6 10.5,238.6 12.8,235.6Z" fill="#02032e"/><path d="M-23,83.5L23,83.5C27.5,102 26.5,128 21,148C10,150.2 -10,150.2 -21,148C-26.5,128 -27.5,102 -23,83.5Z" fill="#02032e"/><path d="M-7.6,-14L7.6,-14L7.6,12L-7.6,12Z" fill="#edb27a"/><path d="M-7.6,-8L7.6,-8L7.6,3C3.8,8 -3.8,8 -7.6,3Z" fill="#d99c63"/><path d="M-24,16L-29,11.5C-33,13 -34.8,18 -35,24L-37.5,82L-38.3,100L-30.6,100L-28.5,72L-24.5,42Z" fill="#f2f0e2"/><path d="M-38.3,99.5L-30.6,99.5C-29.6,106 -30.2,112.5 -33,115.5C-36.5,116.5 -39,110 -38.3,99.5Z" fill="#edb27a"/><path d="M24,16L29,11.5C33,13 34.8,18 35,24L37.5,82L38.3,100L30.6,100L28.5,72L24.5,42Z" fill="#f2f0e2"/><path d="M38.3,99.5L30.6,99.5C29.6,106 30.2,112.5 33,115.5C36.5,116.5 39,110 38.3,99.5Z" fill="#edb27a"/><path d="M-9,4L9,4L16,10L13,33L-13,33L-16,10Z" fill="#edb27a"/><path d="M-8,1C-4,7 4,7 8,1L8,-6L-8,-6Z" fill="#d99c63"/><path d="M-9,7C-16,8.5 -25,10 -29,11.5L-25,40C-23,50 -19,58 -18.5,65C-18.5,72 -21.5,78 -22.6,84 L22.6,84 C21.5,78 18.5,72 18.5,65C19,58 23,50 25,40L29,11.5C25,10 16,8.5 9,7L0,29Z" fill="#f2f0e2"/><path d="M-24.6,42L-25.4,42L-29,72L-28.4,72Z" fill="rgba(0,0,0,.10)"/><path d="M24.6,42L25.4,42L29,72L28.4,72Z" fill="rgba(0,0,0,.10)"/><path d="M-7.5,1.5L-14.5,9.5L-10,27L-2.6,17Z" fill="#ececec"/><path d="M7.5,1.5L14.5,9.5L10,27L2.6,17Z" fill="#ececec"/><ellipse cx="-18" cy="-24.5" rx="3.1" ry="5.4" fill="#edb27a"/><ellipse cx="18" cy="-24.5" rx="3.1" ry="5.4" fill="#edb27a"/><path d="M-17.3,-29C-17.3,-41 -10,-46.5 0,-46.5C10,-46.5 17.3,-41 17.3,-29C17.3,-17 13.5,-8 9,-3.2C6,-0.4 3,0.3 0,0.3C-3,0.3 -6,-0.4 -9,-3.2C-13.5,-8 -17.3,-17 -17.3,-29Z" fill="#edb27a"/><path d="M-17.6,-22C-18,-30 -12,-37 9,-39C12,-37 18,-30 17.6,-22L20,-27C22.5,-40 14,-50.5 0,-50.5C-14,-50.5 -22.5,-40 -20,-27Z" fill="#1d1d1b"/></g>
<use href="#p22" x="-8.5" y="-3" filter="url(#sh)"/>
<g id="p22" transform="translate(384.6,288)"><path d="M0,-55C-16,-55 -27.8,-43 -27.8,-26C-27.8,-12 -26.3,-4 -22.8,-3L-10,-8L10,-8L22.8,-3C26.3,-4 27.8,-12 27.8,-26C27.8,-43 16,-55 0,-55Z" fill="#1d1d1b"/><path d="M-19.5,144C-18.5,168 -15.8,182 -16,192C-17.6,206 -14.5,219 -12.2,233L-12.4,240L-3.6,240L-4,233C-3,219 -1.2,206 -1.6,192C-1,178 -0.4,162 -0.4,144Z" fill="#b98a5e"/><path d="M-14,242L-2.4,242L-3.2,236.2C-5.5,238.6 -10.5,238.6 -12.8,235.6Z" fill="#1a1a18"/><path d="M19.5,144C18.5,168 15.8,182 16,192C17.6,206 14.5,219 12.2,233L12.4,240L3.6,240L4,233C3,219 1.2,206 1.6,192C1,178 0.4,162 0.4,144Z" fill="#b98a5e"/><path d="M14,242L2.4,242L3.2,236.2C5.5,238.6 10.5,238.6 12.8,235.6Z" fill="#1a1a18"/><path d="M-23,83.5L23,83.5C27.5,102 26.5,128 21,148C10,150.2 -10,150.2 -21,148C-26.5,128 -27.5,102 -23,83.5Z" fill="#1d1d1b"/><path d="M-7.6,-14L7.6,-14L7.6,12L-7.6,12Z" fill="#b98a5e"/><path d="M-7.6,-8L7.6,-8L7.6,3C3.8,8 -3.8,8 -7.6,3Z" fill="#a17547"/><path d="M-24,16L-29,11.5C-33,13 -34.8,18 -35,24L-37.5,82L-38.3,100L-30.6,100L-28.5,72L-24.5,42Z" fill="#f7f3ea"/><path d="M-38.3,99.5L-30.6,99.5C-29.6,106 -30.2,112.5 -33,115.5C-36.5,116.5 -39,110 -38.3,99.5Z" fill="#b98a5e"/><path d="M24,16L29,11.5C33,13 34.8,18 35,24L37.5,82L38.3,100L30.6,100L28.5,72L24.5,42Z" fill="#f7f3ea"/><path d="M38.3,99.5L30.6,99.5C29.6,106 30.2,112.5 33,115.5C36.5,116.5 39,110 38.3,99.5Z" fill="#b98a5e"/><path d="M-9,4L9,4L16,10L13,33L-13,33L-16,10Z" fill="#b98a5e"/><path d="M-8,1C-4,7 4,7 8,1L8,-6L-8,-6Z" fill="#a17547"/><path d="M-9,7C-16,8.5 -25,10 -29,11.5L-25,40C-23,50 -19,58 -18.5,65C-18.5,72 -21.5,78 -22.6,84 L22.6,84 C21.5,78 18.5,72 18.5,65C19,58 23,50 25,40L29,11.5C25,10 16,8.5 9,7L0,29Z" fill="#f7f3ea"/><path d="M-24.6,42L-25.4,42L-29,72L-28.4,72Z" fill="rgba(0,0,0,.10)"/><path d="M24.6,42L25.4,42L29,72L28.4,72Z" fill="rgba(0,0,0,.10)"/><path d="M-7.5,1.5L-14.5,9.5L-10,27L-2.6,17Z" fill="#ffffff"/><path d="M7.5,1.5L14.5,9.5L10,27L2.6,17Z" fill="#ffffff"/><ellipse cx="-18" cy="-24.5" rx="3.1" ry="5.4" fill="#b98a5e"/><ellipse cx="18" cy="-24.5" rx="3.1" ry="5.4" fill="#b98a5e"/><path d="M-17.3,-29C-17.3,-41 -10,-46.5 0,-46.5C10,-46.5 17.3,-41 17.3,-29C17.3,-17 13.5,-8 9,-3.2C6,-0.4 3,0.3 0,0.3C-3,0.3 -6,-0.4 -9,-3.2C-13.5,-8 -17.3,-17 -17.3,-29Z" fill="#b98a5e"/><path d="M-17.6,-22C-18,-30 -12,-38 0,-40C12,-38 18,-30 17.6,-22L20,-27C22.5,-40 14,-53 0,-53C-14,-53 -22.5,-40 -20,-27Z" fill="#1d1d1b"/></g>
<use href="#p23" x="-8.5" y="-3" filter="url(#sh)"/>
<g id="p23" transform="translate(659,288.5)"><path d="M-19.5,104C-18.5,128 -15.8,142 -16,152C-17.6,166 -14.5,218.5 -12.2,232.5L-12.4,239.5L-3.6,239.5L-4,232.5C-3,218.5 -1.2,166 -1.6,152C-1,138 -0.4,122 -0.4,104Z" fill="#edb27a"/><path d="M-14,241.5L-2.4,241.5L-3.2,235.7C-5.5,238.1 -10.5,238.1 -12.8,235.1Z" fill="#1a1a18"/><path d="M19.5,104C18.5,128 15.8,142 16,152C17.6,166 14.5,218.5 12.2,232.5L12.4,239.5L3.6,239.5L4,232.5C3,218.5 1.2,166 1.6,152C1,138 0.4,122 0.4,104Z" fill="#edb27a"/><path d="M14,241.5L2.4,241.5L3.2,235.7C5.5,238.1 10.5,238.1 12.8,235.1Z" fill="#1a1a18"/><path d="M-23,73.5L23,73.5C27.5,92 26.5,88 21,108C10,110.2 -10,110.2 -21,108C-26.5,88 -27.5,92 -23,73.5Z" fill="#f6dfbd"/><path d="M-7.6,-14L7.6,-14L7.6,12L-7.6,12Z" fill="#edb27a"/><path d="M-7.6,-8L7.6,-8L7.6,3C3.8,8 -3.8,8 -7.6,3Z" fill="#d99c63"/><path d="M-29,72L-37.3,72L-38.3,100L-30.6,100Z" fill="#edb27a"/><path d="M-24,16L-29,11.5C-33,13 -34.8,18 -35,24L-37.7,80L-29.4,82L-24.5,42Z" fill="#dc5a9a"/><path d="M-38.3,99.5L-30.6,99.5C-29.6,106 -30.2,112.5 -33,115.5C-36.5,116.5 -39,110 -38.3,99.5Z" fill="#edb27a"/><path d="M29,72L37.3,72L38.3,100L30.6,100Z" fill="#edb27a"/><path d="M24,16L29,11.5C33,13 34.8,18 35,24L37.7,80L29.4,82L24.5,42Z" fill="#dc5a9a"/><path d="M38.3,99.5L30.6,99.5C29.6,106 30.2,112.5 33,115.5C36.5,116.5 39,110 38.3,99.5Z" fill="#edb27a"/><path d="M-9,4L9,4L16,10L13,33L-13,33L-16,10Z" fill="#edb27a"/><path d="M-8,1C-4,7 4,7 8,1L8,-6L-8,-6Z" fill="#d99c63"/><path d="M-9,7C-16,8.5 -25,10 -29,11.5L-25,40C-23,50 -19,58 -18.5,65C-18.5,72 -21.5,78 -22.6,74 L22.6,74 C21.5,78 18.5,72 18.5,65C19,58 23,50 25,40L29,11.5C25,10 16,8.5 9,7L0,29Z" fill="#dc5a9a"/><path d="M-24.6,42L-25.4,42L-29,72L-28.4,72Z" fill="rgba(0,0,0,.10)"/><path d="M24.6,42L25.4,42L29,72L28.4,72Z" fill="rgba(0,0,0,.10)"/><ellipse cx="-18" cy="-24.5" rx="3.1" ry="5.4" fill="#edb27a"/><ellipse cx="18" cy="-24.5" rx="3.1" ry="5.4" fill="#edb27a"/><path d="M-17.3,-29C-17.3,-41 -10,-46.5 0,-46.5C10,-46.5 17.3,-41 17.3,-29C17.3,-17 13.5,-8 9,-3.2C6,-0.4 3,0.3 0,0.3C-3,0.3 -6,-0.4 -9,-3.2C-13.5,-8 -17.3,-17 -17.3,-29Z" fill="#edb27a"/><path d="M-18,-22C-20.5,-35 -17,-46.5 -5,-50.3C5,-53 16.5,-49 20,-40C22,-35 21.5,-28 19,-22L18,-27C17,-33 14.5,-38 10,-41.5C3,-36 -8,-30 -18,-22Z" fill="#ecd97c"/><path d="M15,-30C20,-28 22,-21 23,-14C25,-4 24.5,8 26,20C27,27 27.5,32 26.5,36C22.5,28 19,18 18,8C17,-2 17.5,-11 16,-17C15,-21 13.5,-25 15,-30Z" fill="#ecd97c"/><path d="M-1.6,-25.2L-17.4,-27.2C-16.8,-21 -13,-17.2 -8,-17.2C-4,-17.2 -1.8,-20.5 -1.6,-25.2Z" fill="none" stroke="#2a2220" stroke-width="1.3" stroke-linejoin="round"/><path d="M1.6,-25.2L17.4,-27.2C16.8,-21 13,-17.2 8,-17.2C4,-17.2 1.8,-20.5 1.6,-25.2Z" fill="none" stroke="#2a2220" stroke-width="1.3" stroke-linejoin="round"/><path d="M-2,-25.6L2,-25.6L2,-24.2L-2,-24.2Z" fill="#2a2220"/></g>
<use href="#p24" x="-8.5" y="-3" filter="url(#sh)"/>
<g id="p24" transform="translate(525,288.9)"><path d="M-12.4,229L-12.6,239L-3.4,239L-3.8,229Z" fill="#f2d6ac"/><path d="M-14,241L-2.4,241L-3.2,235.2C-5.5,237.6 -10.5,237.6 -12.8,234.6Z" fill="#02032e"/><path d="M12.4,229L12.6,239L3.4,239L3.8,229Z" fill="#f2d6ac"/><path d="M14,241L2.4,241L3.2,235.2C5.5,237.6 10.5,237.6 12.8,234.6Z" fill="#02032e"/><path d="M-22.5,83.5L22.5,83.5C25.5,102 25,124 22,146C19.5,168 17,180 17.2,192C18.2,206 15.4,214 13,230L3.6,230C3,216 1.6,206 1.8,192C1.6,164 1.3,134 1.2,110L-1.2,110C-1.3,134 -1.6,164 -1.8,192C-1.6,206 -3,216 -3.6,230L-13,230C-15.4,214 -18.2,206 -17.2,192C-17,180 -19.5,168 -22,146C-25,124 -25.5,102 -22.5,83.5Z" fill="#e04e2f"/><path d="M-7.6,-14L7.6,-14L7.6,12L-7.6,12Z" fill="#f2d6ac"/><path d="M-7.6,-8L7.6,-8L7.6,3C3.8,8 -3.8,8 -7.6,3Z" fill="#dfc096"/><path d="M-25,30L-35,24L-37.5,82L-38.3,100L-30.6,100L-28.5,72L-24.5,42Z" fill="#f2d6ac"/><path d="M-24,16L-29,11.5C-33,13 -34.8,18 -35,24L-35.6,36L-25,38Z" fill="#a9c856"/><path d="M-38.3,99.5L-30.6,99.5C-29.6,106 -30.2,112.5 -33,115.5C-36.5,116.5 -39,110 -38.3,99.5Z" fill="#f2d6ac"/><path d="M25,30L35,24L37.5,82L38.3,100L30.6,100L28.5,72L24.5,42Z" fill="#f2d6ac"/><path d="M24,16L29,11.5C33,13 34.8,18 35,24L35.6,36L25,38Z" fill="#a9c856"/><path d="M38.3,99.5L30.6,99.5C29.6,106 30.2,112.5 33,115.5C36.5,116.5 39,110 38.3,99.5Z" fill="#f2d6ac"/><path d="M-9,4L9,4L16,10L13,16L-13,16L-16,10Z" fill="#f2d6ac"/><path d="M-8,1C-4,7 4,7 8,1L8,-6L-8,-6Z" fill="#dfc096"/><path d="M-9,7C-16,8.5 -25,10 -29,11.5L-25,40C-23,50 -19,58 -18.5,65C-18.5,72 -21.5,78 -22.6,84 L22.6,84 C21.5,78 18.5,72 18.5,65C19,58 23,50 25,40L29,11.5C25,10 16,8.5 9,7C6,12 -6,12 -9,7Z" fill="#a9c856"/><path d="M-24.6,42L-25.4,42L-29,72L-28.4,72Z" fill="rgba(0,0,0,.10)"/><path d="M24.6,42L25.4,42L29,72L28.4,72Z" fill="rgba(0,0,0,.10)"/><ellipse cx="-18" cy="-24.5" rx="3.1" ry="5.4" fill="#f2d6ac"/><ellipse cx="18" cy="-24.5" rx="3.1" ry="5.4" fill="#f2d6ac"/><path d="M-17.3,-29C-17.3,-41 -10,-46.5 0,-46.5C10,-46.5 17.3,-41 17.3,-29C17.3,-17 13.5,-8 9,-3.2C6,-0.4 3,0.3 0,0.3C-3,0.3 -6,-0.4 -9,-3.2C-13.5,-8 -17.3,-17 -17.3,-29Z" fill="#f2d6ac"/><ellipse cx="-14.8" cy="-50" rx="9.2" ry="8.6" fill="#b9602c"/><path d="M-18,-22C-21,-34 -18,-45 -7,-49.5C3,-53 14,-49 19,-40C22,-34 21,-26 18,-20C17.5,-26 16,-31 13,-35C8,-31.5 2,-33 -3,-36C-8,-33 -13,-33.5 -16,-30C-17.5,-27.5 -18,-25 -18,-22Z" fill="#b9602c"/></g>
<use href="#p25" x="-8.5" y="-3" filter="url(#sh)"/>
<g id="p25" transform="translate(147.8,318)"><path d="M-29.8,107L29.8,107L30,147L24.3,263.5L5.3,263.5L1.3,137L-1.3,137L-5.3,263.5L-24.3,263.5L-30,147Z" fill="#1d1d1b"/><rect x="-29.8" y="106" width="59.6" height="3.6" fill="#141412"/><rect x="-4.3" y="106.4" width="8.6" height="3.6" fill="none" stroke="#cfcfcf" stroke-width=".7"/><path d="M-24.8,271.5L-4.6,271.5L-5.2,264.7C-8,261.7 -21,261.7 -24.2,264.7Z" fill="#5b3a22"/><path d="M24.8,271.5L4.6,271.5L5.2,264.7C8,261.7 21,261.7 24.2,264.7Z" fill="#5b3a22"/><path d="M-10.8,-14L10.8,-14L10.8,14L-10.8,14Z" fill="#edb27a"/><path d="M-10.8,-8L10.8,-8L10.8,3C5.4,8 -5.4,8 -10.8,3Z" fill="#d99c63"/><path d="M-29,20L-35,16.5C-39.5,18 -41.3,24 -41.6,32L-44.6,82L-42.2,125L-32.4,125L-31,70Z" fill="#a973a9"/><path d="M29,20L35,16.5C39.5,18 41.3,24 41.6,32L44.6,82L42.2,125L32.4,125L31,70Z" fill="#a973a9"/><path d="M-42.2,124.5L-32.6,124.5C-31.3,132 -32.1,140 -35.3,142.5C-39.3,143.5 -42.9,136 -42.2,124.5Z" fill="#edb27a"/><path d="M42.2,124.5L32.6,124.5C31.3,132 32.1,140 35.3,142.5C39.3,143.5 42.9,136 42.2,124.5Z" fill="#edb27a"/><path d="M-13.5,8.5C-23,11.5 -31,14 -35.5,16.5L-31,45L-29.6,107L29.6,107L31,45L35.5,16.5C31,14 23,11.5 13.5,8.5Z" fill="#a973a9"/><path d="M-30.6,46L-31.6,46L-31.2,107L-29.6,107Z" fill="rgba(0,0,0,.16)"/><path d="M30.6,46L31.6,46L31.2,107L29.6,107Z" fill="rgba(0,0,0,.16)"/><path d="M-13.5,8.5C-8,16 8,16 13.5,8.5L10.5,7C6,12 -6,12 -10.5,7Z" fill="rgba(0,0,0,.10)"/><path d="M-10.8,6.5C-6,12 6,12 10.8,6.5L10.8,0L-10.8,0Z" fill="#edb27a"/><path d="M-10.8,3C-5,8 5,8 10.8,3L10.8,-6L-10.8,-6Z" fill="#d99c63"/><ellipse cx="-19.4" cy="-26" rx="3.2" ry="5.8" fill="#edb27a"/><ellipse cx="19.4" cy="-26" rx="3.2" ry="5.8" fill="#edb27a"/><path d="M-19,-30C-19,-47 -11,-55.5 0,-55.5C11,-55.5 19,-47 19,-30C19,-18 14.5,-8.5 9.5,-3.2C6.5,-0.6 3,0 0,0C-3,0 -6.5,-0.6 -9.5,-3.2C-14.5,-8.5 -19,-18 -19,-30Z" fill="#edb27a"/><path d="M-19,-22L-22.5,-44C-24,-52 -21,-56 -16,-57L-11.5,-61L-8,-57.5C-3,-59 4,-59 9,-57.5C15,-57 20,-55 21.5,-50C22.5,-47 22,-44 21.5,-42L19,-22L17.5,-38C17,-42.5 14,-44.5 10,-44C6,-43.5 3,-41.5 0,-41.5C-3,-41.5 -6,-43.5 -10,-44C-14,-44.5 -17,-42.5 -17.5,-38Z" fill="#ecd97c"/></g>
<use href="#p26" x="-8.5" y="-3" filter="url(#sh)"/>
<g id="p26" transform="translate(428.7,319.1)"><path d="M-29.8,104.5L29.8,104.5L30,144.5L24.3,260.19999999999993L5.3,260.19999999999993L1.3,134.5L-1.3,134.5L-5.3,260.19999999999993L-24.3,260.19999999999993L-30,144.5Z" fill="#02032e"/><rect x="-29.8" y="103.5" width="59.6" height="3.6" fill="#141412"/><rect x="-4.3" y="103.9" width="8.6" height="3.6" fill="none" stroke="#cfcfcf" stroke-width=".7"/><path d="M-24.8,268.19999999999993L-4.6,268.19999999999993L-5.2,261.3999999999999C-8,258.3999999999999 -21,258.3999999999999 -24.2,261.3999999999999Z" fill="#8a3a1a"/><path d="M24.8,268.19999999999993L4.6,268.19999999999993L5.2,261.3999999999999C8,258.3999999999999 21,258.3999999999999 24.2,261.3999999999999Z" fill="#8a3a1a"/><path d="M-10.8,-14L10.8,-14L10.8,14L-10.8,14Z" fill="#f2d6ac"/><path d="M-10.8,-8L10.8,-8L10.8,3C5.4,8 -5.4,8 -10.8,3Z" fill="#dfc096"/><path d="M-29,20L-35,16.5C-39.5,18 -41.3,24 -41.6,32L-44.6,82L-42.2,125L-32.4,125L-31,70Z" fill="url(#strR)"/><path d="M29,20L35,16.5C39.5,18 41.3,24 41.6,32L44.6,82L42.2,125L32.4,125L31,70Z" fill="url(#strR)"/><path d="M-42.2,124.5L-32.6,124.5C-31.3,132 -32.1,140 -35.3,142.5C-39.3,143.5 -42.9,136 -42.2,124.5Z" fill="#f2d6ac"/><path d="M42.2,124.5L32.6,124.5C31.3,132 32.1,140 35.3,142.5C39.3,143.5 42.9,136 42.2,124.5Z" fill="#f2d6ac"/><path d="M-13.5,8.5C-23,11.5 -31,14 -35.5,16.5L-31,45L-29.6,104.5L29.6,104.5L31,45L35.5,16.5C31,14 23,11.5 13.5,8.5Z" fill="url(#strR)"/><path d="M-30.6,46L-31.6,46L-31.2,104.5L-29.6,104.5Z" fill="rgba(0,0,0,.16)"/><path d="M30.6,46L31.6,46L31.2,104.5L29.6,104.5Z" fill="rgba(0,0,0,.16)"/><path d="M-11,2L0,17L11,2L11,10L-11,10Z" fill="#f2d6ac"/><path d="M-10.5,3L0,16.5L10.5,3L10.5,-4L-10.5,-4Z" fill="#dfc096"/><path d="M-10,-0.5L-15.5,8L-7.5,22L-0.3,15.5Z" fill="#ffffff"/><path d="M10,-0.5L15.5,8L7.5,22L0.3,15.5Z" fill="#ffffff"/><ellipse cx="-19.4" cy="-26" rx="3.2" ry="5.8" fill="#f2d6ac"/><ellipse cx="19.4" cy="-26" rx="3.2" ry="5.8" fill="#f2d6ac"/><path d="M-19,-30C-19,-47 -11,-55.5 0,-55.5C11,-55.5 19,-47 19,-30C19,-18 14.5,-8.5 9.5,-3.2C6.5,-0.6 3,0 0,0C-3,0 -6.5,-0.6 -9.5,-3.2C-14.5,-8.5 -19,-18 -19,-30Z" fill="#f2d6ac"/><path d="M-18.5,-26C-19,-32 -22,-38 -22,-45C-22,-52 -16,-56 -10,-58C-5,-60 0,-60.5 5,-59.5C10,-59 15,-60 19.8,-62.5C23,-58 26,-53 26.2,-48.5C26.5,-43 24,-38 21.3,-34L19,-25.5L17.5,-33C16,-35.5 15,-36.5 14.9,-37C10,-39 4,-42.5 -1.6,-43.5C-6,-44 -11,-42 -14.7,-38.6C-16.5,-36.5 -17.5,-33 -17.5,-30Z" fill="#1d1d1b"/><path d="M-19.6,-30L-18.6,-19C-17.5,-8 -8,1 0,1C8,1 17.5,-8 18.6,-19L19.6,-30L17,-22C13.5,-14.5 9,-13.5 5.5,-16.8C2,-18.3 -2,-18.3 -5.5,-16.8C-9,-13.5 -13.5,-14.5 -17,-22Z" fill="#1d1d1b"/><rect x="-4.6" y="-13.2" width="9.2" height="2.9" rx="1.4" fill="#f2d6ac"/></g>
<use href="#p27" x="-8.5" y="-3" filter="url(#sh)"/>
<g id="p27" transform="translate(287,322.2)"><path d="M-29.8,103L29.8,103L30,143L24.3,257.09999999999997L5.3,257.09999999999997L1.3,133L-1.3,133L-5.3,257.09999999999997L-24.3,257.09999999999997L-30,143Z" fill="#7b3c8c"/><rect x="-29.8" y="102" width="59.6" height="3.6" fill="#141412"/><rect x="-4.3" y="102.4" width="8.6" height="3.6" fill="none" stroke="#cfcfcf" stroke-width=".7"/><path d="M-24.8,265.09999999999997L-4.6,265.09999999999997L-5.2,258.29999999999995C-8,255.29999999999995 -21,255.29999999999995 -24.2,258.29999999999995Z" fill="#141412"/><path d="M24.8,265.09999999999997L4.6,265.09999999999997L5.2,258.29999999999995C8,255.29999999999995 21,255.29999999999995 24.2,258.29999999999995Z" fill="#141412"/><path d="M-10.8,-14L10.8,-14L10.8,14L-10.8,14Z" fill="#b98a5e"/><path d="M-10.8,-8L10.8,-8L10.8,3C5.4,8 -5.4,8 -10.8,3Z" fill="#a17547"/><path d="M-31,40L-42,40L-44.4,82L-42,125L-33,125L-31.5,70Z" fill="#b98a5e"/><path d="M-29,20L-35,16.5C-39.5,18 -41.3,24 -41.6,32L-43,50L-30.5,52Z" fill="#3f2a1d"/><path d="M31,40L42,40L44.4,82L42,125L33,125L31.5,70Z" fill="#b98a5e"/><path d="M29,20L35,16.5C39.5,18 41.3,24 41.6,32L43,50L30.5,52Z" fill="#3f2a1d"/><path d="M-42.2,124.5L-32.6,124.5C-31.3,132 -32.1,140 -35.3,142.5C-39.3,143.5 -42.9,136 -42.2,124.5Z" fill="#b98a5e"/><path d="M42.2,124.5L32.6,124.5C31.3,132 32.1,140 35.3,142.5C39.3,143.5 42.9,136 42.2,124.5Z" fill="#b98a5e"/><path d="M-13.5,8.5C-23,11.5 -31,14 -35.5,16.5L-31,45L-29.6,103L29.6,103L31,45L35.5,16.5C31,14 23,11.5 13.5,8.5Z" fill="#3f2a1d"/><path d="M-30.6,46L-31.6,46L-31.2,103L-29.6,103Z" fill="rgba(0,0,0,.16)"/><path d="M30.6,46L31.6,46L31.2,103L29.6,103Z" fill="rgba(0,0,0,.16)"/><path d="M-13.5,8.5C-8,16 8,16 13.5,8.5L10.5,7C6,12 -6,12 -10.5,7Z" fill="rgba(0,0,0,.10)"/><path d="M-10.8,6.5C-6,12 6,12 10.8,6.5L10.8,0L-10.8,0Z" fill="#b98a5e"/><path d="M-10.8,3C-5,8 5,8 10.8,3L10.8,-6L-10.8,-6Z" fill="#a17547"/><ellipse cx="-20.3" cy="-26" rx="3.9" ry="6.2" fill="#b98a5e"/><ellipse cx="20.3" cy="-26" rx="3.9" ry="6.2" fill="#b98a5e"/><path d="M-19,-30C-19,-47 -11,-55.5 0,-55.5C11,-55.5 19,-47 19,-30C19,-18 14.5,-8.5 9.5,-3.2C6.5,-0.6 3,0 0,0C-3,0 -6.5,-0.6 -9.5,-3.2C-14.5,-8.5 -19,-18 -19,-30Z" fill="#b98a5e"/><path d="M-18.8,-24C-22.09,-34 -23.03,-46 -17.86,-54C-13.16,-60.5 -5.64,-62 0,-62C5.64,-62 13.16,-60.5 17.86,-54C23.03,-46 22.09,-34 18.8,-24L18.2,-31C18,-35 16.5,-37.5 14,-39C8,-36.5 -8,-36.5 -14,-39C-16.5,-37.5 -18,-35 -18.2,-31Z" fill="#1d1d1b"/></g>
<use href="#p28" x="-8.5" y="-3" filter="url(#sh)"/>
<g id="p28" transform="translate(569.9,325.7)"><path d="M-29.8,100L29.8,100L30,140L24.3,256.2L5.3,256.2L1.3,130L-1.3,130L-5.3,256.2L-24.3,256.2L-30,140Z" fill="#02032e"/><rect x="-29.8" y="99" width="59.6" height="3.6" fill="#141412"/><rect x="-4.3" y="99.4" width="8.6" height="3.6" fill="none" stroke="#cfcfcf" stroke-width=".7"/><path d="M-24.8,264.2L-4.6,264.2L-5.2,257.4C-8,254.39999999999998 -21,254.39999999999998 -24.2,257.4Z" fill="#8a3a1a"/><path d="M24.8,264.2L4.6,264.2L5.2,257.4C8,254.39999999999998 21,254.39999999999998 24.2,257.4Z" fill="#8a3a1a"/><path d="M-10.8,-14L10.8,-14L10.8,14L-10.8,14Z" fill="#edb27a"/><path d="M-10.8,-8L10.8,-8L10.8,3C5.4,8 -5.4,8 -10.8,3Z" fill="#d99c63"/><path d="M-29,20L-35,16.5C-39.5,18 -41.3,24 -41.6,32L-44.6,82L-42.2,125L-32.4,125L-31,70Z" fill="url(#chkB)"/><path d="M29,20L35,16.5C39.5,18 41.3,24 41.6,32L44.6,82L42.2,125L32.4,125L31,70Z" fill="url(#chkB)"/><path d="M-42.2,124.5L-32.6,124.5C-31.3,132 -32.1,140 -35.3,142.5C-39.3,143.5 -42.9,136 -42.2,124.5Z" fill="#edb27a"/><path d="M42.2,124.5L32.6,124.5C31.3,132 32.1,140 35.3,142.5C39.3,143.5 42.9,136 42.2,124.5Z" fill="#edb27a"/><path d="M-13.5,8.5C-23,11.5 -31,14 -35.5,16.5L-31,45L-29.6,100L29.6,100L31,45L35.5,16.5C31,14 23,11.5 13.5,8.5Z" fill="url(#chkB)"/><path d="M-30.6,46L-31.6,46L-31.2,100L-29.6,100Z" fill="rgba(0,0,0,.16)"/><path d="M30.6,46L31.6,46L31.2,100L29.6,100Z" fill="rgba(0,0,0,.16)"/><path d="M-11,2L0,17L11,2L11,10L-11,10Z" fill="#edb27a"/><path d="M-10.5,3L0,16.5L10.5,3L10.5,-4L-10.5,-4Z" fill="#d99c63"/><path d="M-10,-0.5L-15.5,8L-7.5,22L-0.3,15.5Z" fill="url(#chkC)"/><path d="M10,-0.5L15.5,8L7.5,22L0.3,15.5Z" fill="url(#chkC)"/><ellipse cx="-19.4" cy="-26" rx="3.2" ry="5.8" fill="#edb27a"/><ellipse cx="19.4" cy="-26" rx="3.2" ry="5.8" fill="#edb27a"/><path d="M-19,-30C-19,-47 -11,-55.5 0,-55.5C11,-55.5 19,-47 19,-30C19,-18 14.5,-8.5 9.5,-3.2C6.5,-0.6 3,0 0,0C-3,0 -6.5,-0.6 -9.5,-3.2C-14.5,-8.5 -19,-18 -19,-30Z" fill="#edb27a"/><path d="M-18.5,-26C-19,-32 -22,-38 -22,-45C-22,-52 -16,-56 -10,-58C-5,-60 0,-60.5 5,-59.5C10,-59 15,-60 19.8,-62.5C23,-58 26,-53 26.2,-48.5C26.5,-43 24,-38 21.3,-34L19,-25.5L17.5,-33C16,-35.5 15,-36.5 14.9,-37C10,-39 4,-42.5 -1.6,-43.5C-6,-44 -11,-42 -14.7,-38.6C-16.5,-36.5 -17.5,-33 -17.5,-30Z" fill="#1d1d1b"/><path d="M-1.6,-32L-17.6,-32C-17.9,-26.5 -17,-23.4 -15.5,-22C-14,-20.8 -11,-20.8 -9,-20.8C-6.5,-20.8 -4.6,-21.4 -3.4,-23C-2,-25 -1.7,-28 -1.6,-32Z" fill="none" stroke="#1d1d1b" stroke-width="1.9" stroke-linejoin="round"/><path d="M1.6,-32L17.6,-32C17.9,-26.5 17,-23.4 15.5,-22C14,-20.8 11,-20.8 9,-20.8C6.5,-20.8 4.6,-21.4 3.4,-23C2,-25 1.7,-28 1.6,-32Z" fill="none" stroke="#1d1d1b" stroke-width="1.9" stroke-linejoin="round"/><path d="M-18.6,-33.86L18.6,-33.86L18.6,-31.34L-18.6,-31.34Z" fill="#1d1d1b"/></g>
<use href="#p29" x="-8.5" y="-3" filter="url(#sh)"/>
<g id="p29" transform="translate(356,340.5)"><path d="M-19.5,169C-18.5,193 -15.8,207 -16,217C-17.6,231 -14.5,223.79999999999995 -12.2,237.79999999999995L-12.4,244.79999999999995L-3.6,244.79999999999995L-4,237.79999999999995C-3,223.79999999999995 -1.2,231 -1.6,217C-1,203 -0.4,187 -0.4,169Z" fill="#f2d6ac"/><path d="M-14,246.79999999999995L-2.4,246.79999999999995L-3.2,240.99999999999994C-5.5,243.39999999999995 -10.5,243.39999999999995 -12.8,240.39999999999995Z" fill="#1a1a18"/><path d="M19.5,169C18.5,193 15.8,207 16,217C17.6,231 14.5,223.79999999999995 12.2,237.79999999999995L12.4,244.79999999999995L3.6,244.79999999999995L4,237.79999999999995C3,223.79999999999995 1.2,231 1.6,217C1,203 0.4,187 0.4,169Z" fill="#f2d6ac"/><path d="M14,246.79999999999995L2.4,246.79999999999995L3.2,240.99999999999994C5.5,243.39999999999995 10.5,243.39999999999995 12.8,240.39999999999995Z" fill="#1a1a18"/><path d="M-23,88.5L23,88.5C27.5,107 26.5,153 21,173C10,175.2 -10,175.2 -21,173C-26.5,153 -27.5,107 -23,88.5Z" fill="#1d1d1b"/><path d="M-7.6,-14L7.6,-14L7.6,12L-7.6,12Z" fill="#f2d6ac"/><path d="M-7.6,-8L7.6,-8L7.6,3C3.8,8 -3.8,8 -7.6,3Z" fill="#dfc096"/><path d="M-24,16L-29,11.5C-33,13 -34.8,18 -35,24L-37.5,82L-38.3,100L-30.6,100L-28.5,72L-24.5,42Z" fill="#8ccbcc"/><path d="M-38.3,99.5L-30.6,99.5C-29.6,106 -30.2,112.5 -33,115.5C-36.5,116.5 -39,110 -38.3,99.5Z" fill="#f2d6ac"/><path d="M24,16L29,11.5C33,13 34.8,18 35,24L37.5,82L38.3,100L30.6,100L28.5,72L24.5,42Z" fill="#8ccbcc"/><path d="M38.3,99.5L30.6,99.5C29.6,106 30.2,112.5 33,115.5C36.5,116.5 39,110 38.3,99.5Z" fill="#f2d6ac"/><path d="M-9,4L9,4L16,10L13,33L-13,33L-16,10Z" fill="#f2d6ac"/><path d="M-8,1C-4,7 4,7 8,1L8,-6L-8,-6Z" fill="#dfc096"/><path d="M-9,7C-16,8.5 -25,10 -29,11.5L-25,40C-23,50 -19,58 -18.5,65C-18.5,72 -21.5,78 -22.6,89 L22.6,89 C21.5,78 18.5,72 18.5,65C19,58 23,50 25,40L29,11.5C25,10 16,8.5 9,7L0,29Z" fill="#8ccbcc"/><path d="M-24.6,42L-25.4,42L-29,72L-28.4,72Z" fill="rgba(0,0,0,.10)"/><path d="M24.6,42L25.4,42L29,72L28.4,72Z" fill="rgba(0,0,0,.10)"/><path d="M-7.5,1.5L-14.5,9.5L-10,27L-2.6,17Z" fill="#ffffff"/><path d="M7.5,1.5L14.5,9.5L10,27L2.6,17Z" fill="#ffffff"/><ellipse cx="-18" cy="-24.5" rx="3.1" ry="5.4" fill="#f2d6ac"/><ellipse cx="18" cy="-24.5" rx="3.1" ry="5.4" fill="#f2d6ac"/><path d="M-17.3,-29C-17.3,-41 -10,-46.5 0,-46.5C10,-46.5 17.3,-41 17.3,-29C17.3,-17 13.5,-8 9,-3.2C6,-0.4 3,0.3 0,0.3C-3,0.3 -6,-0.4 -9,-3.2C-13.5,-8 -17.3,-17 -17.3,-29Z" fill="#f2d6ac"/><path d="M-17,-8C-24,-20 -25,-38 -14,-45.5C-4,-51 12,-49.5 19.5,-40C25,-32 23.5,-18 17.2,-8C18.5,-14 18.5,-19 17,-23C10,-24 1,-29 -4,-37.5C-8,-30 -15,-24 -17.2,-18C-18,-14 -17.8,-11 -17,-8Z" fill="#3f2a1d"/></g>
<use href="#p30" x="-8.5" y="-3" filter="url(#sh)"/>
<g id="p30" transform="translate(218,345)"><path d="M-19.5,143C-18.5,167 -15.8,181 -16,191C-17.6,205 -14.5,219.79999999999995 -12.2,233.79999999999995L-12.4,240.79999999999995L-3.6,240.79999999999995L-4,233.79999999999995C-3,219.79999999999995 -1.2,205 -1.6,191C-1,177 -0.4,161 -0.4,143Z" fill="#f2d6ac"/><path d="M-14,242.79999999999995L-2.4,242.79999999999995L-3.2,236.99999999999994C-5.5,239.39999999999995 -10.5,239.39999999999995 -12.8,236.39999999999995Z" fill="#02032e"/><path d="M19.5,143C18.5,167 15.8,181 16,191C17.6,205 14.5,219.79999999999995 12.2,233.79999999999995L12.4,240.79999999999995L3.6,240.79999999999995L4,233.79999999999995C3,219.79999999999995 1.2,205 1.6,191C1,177 0.4,161 0.4,143Z" fill="#f2d6ac"/><path d="M14,242.79999999999995L2.4,242.79999999999995L3.2,236.99999999999994C5.5,239.39999999999995 10.5,239.39999999999995 12.8,236.39999999999995Z" fill="#02032e"/><path d="M-23,83.5L23,83.5C27.5,102 26.5,127 21,147C10,149.2 -10,149.2 -21,147C-26.5,127 -27.5,102 -23,83.5Z" fill="#02032e"/><path d="M-7.6,-14L7.6,-14L7.6,12L-7.6,12Z" fill="#f2d6ac"/><path d="M-7.6,-8L7.6,-8L7.6,3C3.8,8 -3.8,8 -7.6,3Z" fill="#dfc096"/><path d="M-24,16L-29,11.5C-33,13 -34.8,18 -35,24L-37.5,82L-38.3,100L-30.6,100L-28.5,72L-24.5,42Z" fill="#f2f0e2"/><path d="M-38.3,99.5L-30.6,99.5C-29.6,106 -30.2,112.5 -33,115.5C-36.5,116.5 -39,110 -38.3,99.5Z" fill="#f2d6ac"/><path d="M24,16L29,11.5C33,13 34.8,18 35,24L37.5,82L38.3,100L30.6,100L28.5,72L24.5,42Z" fill="#f2f0e2"/><path d="M38.3,99.5L30.6,99.5C29.6,106 30.2,112.5 33,115.5C36.5,116.5 39,110 38.3,99.5Z" fill="#f2d6ac"/><path d="M-9,4L9,4L16,10L13,33L-13,33L-16,10Z" fill="#f2d6ac"/><path d="M-8,1C-4,7 4,7 8,1L8,-6L-8,-6Z" fill="#dfc096"/><path d="M-9,7C-16,8.5 -25,10 -29,11.5L-25,40C-23,50 -19,58 -18.5,65C-18.5,72 -21.5,78 -22.6,84 L22.6,84 C21.5,78 18.5,72 18.5,65C19,58 23,50 25,40L29,11.5C25,10 16,8.5 9,7L0,29Z" fill="#f2f0e2"/><path d="M-24.6,42L-25.4,42L-29,72L-28.4,72Z" fill="rgba(0,0,0,.10)"/><path d="M24.6,42L25.4,42L29,72L28.4,72Z" fill="rgba(0,0,0,.10)"/><path d="M-7.5,1.5L-14.5,9.5L-10,27L-2.6,17Z" fill="#ececec"/><path d="M7.5,1.5L14.5,9.5L10,27L2.6,17Z" fill="#ececec"/><ellipse cx="-18" cy="-24.5" rx="3.1" ry="5.4" fill="#f2d6ac"/><ellipse cx="18" cy="-24.5" rx="3.1" ry="5.4" fill="#f2d6ac"/><path d="M-17.3,-29C-17.3,-41 -10,-46.5 0,-46.5C10,-46.5 17.3,-41 17.3,-29C17.3,-17 13.5,-8 9,-3.2C6,-0.4 3,0.3 0,0.3C-3,0.3 -6,-0.4 -9,-3.2C-13.5,-8 -17.3,-17 -17.3,-29Z" fill="#f2d6ac"/><ellipse cx="-9.5" cy="-50.5" rx="8.6" ry="8" fill="#1d1d1b"/><path d="M-18,-21C-21.5,-34 -19.5,-46.5 -6,-51.5C5,-54.5 17,-51 21,-41.5C23,-36 22,-27 19.5,-21C19.3,-27 16.5,-31 10,-33C3,-34.5 -4,-37.5 -8.5,-43C-12,-38 -17.2,-31 -18,-21Z" fill="#1d1d1b"/><path d="M-1.6,-24.7L-17.4,-26.7C-16.8,-20.5 -13,-16.7 -8,-16.7C-4,-16.7 -1.8,-20.0 -1.6,-24.7Z" fill="none" stroke="#3a3024" stroke-width="1.3" stroke-linejoin="round"/><path d="M1.6,-24.7L17.4,-26.7C16.8,-20.5 13,-16.7 8,-16.7C4,-16.7 1.8,-20.0 1.6,-24.7Z" fill="none" stroke="#3a3024" stroke-width="1.3" stroke-linejoin="round"/><path d="M-2,-25.1L2,-25.1L2,-23.7L-2,-23.7Z" fill="#3a3024"/></g>
<use href="#p31" x="-8.5" y="-3" filter="url(#sh)"/>
<g id="p31" transform="translate(498.5,345.8)"><path d="M0,-55.5C-18,-55.5 -24.5,-43.5 -24.5,-28C-25.5,-10 -23.5,5 -19.5,24L-9,18L-9,-4L9,-4L9,18L19.5,24C23.5,5 25.5,-10 24.5,-28C24.5,-43.5 18,-55.5 0,-55.5Z" fill="#3f2a1d"/><path d="M-19.5,139C-18.5,163 -15.8,177 -16,187C-17.6,201 -14.5,218.49999999999994 -12.2,232.49999999999994L-12.4,239.49999999999994L-3.6,239.49999999999994L-4,232.49999999999994C-3,218.49999999999994 -1.2,201 -1.6,187C-1,173 -0.4,157 -0.4,139Z" fill="#edb27a"/><path d="M-14,241.49999999999994L-2.4,241.49999999999994L-3.2,235.69999999999993C-5.5,238.09999999999994 -10.5,238.09999999999994 -12.8,235.09999999999994Z" fill="#1a1a18"/><path d="M19.5,139C18.5,163 15.8,177 16,187C17.6,201 14.5,218.49999999999994 12.2,232.49999999999994L12.4,239.49999999999994L3.6,239.49999999999994L4,232.49999999999994C3,218.49999999999994 1.2,201 1.6,187C1,173 0.4,157 0.4,139Z" fill="#edb27a"/><path d="M14,241.49999999999994L2.4,241.49999999999994L3.2,235.69999999999993C5.5,238.09999999999994 10.5,238.09999999999994 12.8,235.09999999999994Z" fill="#1a1a18"/><path d="M-23,78.5L23,78.5C27.5,97 26.5,123 21,143C10,145.2 -10,145.2 -21,143C-26.5,123 -27.5,97 -23,78.5Z" fill="#12110f"/><path d="M-7.6,-14L7.6,-14L7.6,12L-7.6,12Z" fill="#edb27a"/><path d="M-7.6,-8L7.6,-8L7.6,3C3.8,8 -3.8,8 -7.6,3Z" fill="#d99c63"/><path d="M-29,72L-37.3,72L-38.3,100L-30.6,100Z" fill="#edb27a"/><path d="M-24,16L-29,11.5C-33,13 -34.8,18 -35,24L-37.7,80L-29.4,82L-24.5,42Z" fill="#f6dfbd"/><path d="M-38.3,99.5L-30.6,99.5C-29.6,106 -30.2,112.5 -33,115.5C-36.5,116.5 -39,110 -38.3,99.5Z" fill="#edb27a"/><path d="M29,72L37.3,72L38.3,100L30.6,100Z" fill="#edb27a"/><path d="M24,16L29,11.5C33,13 34.8,18 35,24L37.7,80L29.4,82L24.5,42Z" fill="#f6dfbd"/><path d="M38.3,99.5L30.6,99.5C29.6,106 30.2,112.5 33,115.5C36.5,116.5 39,110 38.3,99.5Z" fill="#edb27a"/><path d="M-9,4L9,4L16,10L13,23L-13,23L-16,10Z" fill="#edb27a"/><path d="M-8,1C-4,7 4,7 8,1L8,-6L-8,-6Z" fill="#d99c63"/><path d="M-14,8C-18,9 -25,10 -29,11.5L-25,40C-23,50 -19,58 -18.5,65C-18.5,72 -21.5,78 -22.6,79 L22.6,79 C21.5,78 18.5,72 18.5,65C19,58 23,50 25,40L29,11.5C25,10 18,9 14,8C13.5,25 -13.5,25 -14,8Z" fill="#f6dfbd"/><path d="M-24.6,42L-25.4,42L-29,72L-28.4,72Z" fill="rgba(0,0,0,.10)"/><path d="M24.6,42L25.4,42L29,72L28.4,72Z" fill="rgba(0,0,0,.10)"/><ellipse cx="-18" cy="-24.5" rx="3.1" ry="5.4" fill="#edb27a"/><ellipse cx="18" cy="-24.5" rx="3.1" ry="5.4" fill="#edb27a"/><path d="M-17.3,-29C-17.3,-41 -10,-46.5 0,-46.5C10,-46.5 17.3,-41 17.3,-29C17.3,-17 13.5,-8 9,-3.2C6,-0.4 3,0.3 0,0.3C-3,0.3 -6,-0.4 -9,-3.2C-13.5,-8 -17.3,-17 -17.3,-29Z" fill="#edb27a"/><path d="M-17.6,-22C-18,-30 -12,-37 -2,-39C12,-37 18,-30 17.6,-22L20,-27C22.5,-40 14,-53.5 0,-53.5C-14,-53.5 -22.5,-40 -20,-27Z" fill="#3f2a1d"/></g>
<use href="#p32" x="-8.5" y="-3" filter="url(#sh)"/>
<g id="p32" transform="translate(640.2,347.5)"><path d="M0,-58C-16,-58 -27.5,-46 -27.5,-26C-27.5,-12 -26.0,-4 -22.5,2L-10,-3L10,-3L22.5,2C26.0,-4 27.5,-12 27.5,-26C27.5,-46 16,-58 0,-58Z" fill="#1d1d1b"/><path d="M-12.4,228.29999999999995L-12.6,238.29999999999995L-3.4,238.29999999999995L-3.8,228.29999999999995Z" fill="#b98a5e"/><path d="M-14,240.29999999999995L-2.4,240.29999999999995L-3.2,234.49999999999994C-5.5,236.89999999999995 -10.5,236.89999999999995 -12.8,233.89999999999995Z" fill="#02032e"/><path d="M12.4,228.29999999999995L12.6,238.29999999999995L3.4,238.29999999999995L3.8,228.29999999999995Z" fill="#b98a5e"/><path d="M14,240.29999999999995L2.4,240.29999999999995L3.2,234.49999999999994C5.5,236.89999999999995 10.5,236.89999999999995 12.8,233.89999999999995Z" fill="#02032e"/><path d="M-22.5,69.5L22.5,69.5C25.5,88 25,110 22,132C19.5,154 17,166 17.2,178C18.2,192 15.4,213.29999999999995 13,229.29999999999995L3.6,229.29999999999995C3,215.29999999999995 1.6,192 1.8,178C1.6,150 1.3,120 1.2,96L-1.2,96C-1.3,120 -1.6,150 -1.8,178C-1.6,192 -3,215.29999999999995 -3.6,229.29999999999995L-13,229.29999999999995C-15.4,213.29999999999995 -18.2,192 -17.2,178C-17,166 -19.5,154 -22,132C-25,110 -25.5,88 -22.5,69.5Z" fill="#0c0c36"/><path d="M-21.5,68L21.5,68L23.6,81L-23.6,81Z" fill="#1d1d1b"/><path d="M-7.6,-14L7.6,-14L7.6,12L-7.6,12Z" fill="#b98a5e"/><path d="M-7.6,-8L7.6,-8L7.6,3C3.8,8 -3.8,8 -7.6,3Z" fill="#a17547"/><path d="M-24,16L-29,11.5C-33,13 -34.8,18 -35,24L-37.5,82L-38.3,100L-30.6,100L-28.5,72L-24.5,42Z" fill="#3c3c3b"/><path d="M-38.3,99.5L-30.6,99.5C-29.6,106 -30.2,112.5 -33,115.5C-36.5,116.5 -39,110 -38.3,99.5Z" fill="#b98a5e"/><path d="M24,16L29,11.5C33,13 34.8,18 35,24L37.5,82L38.3,100L30.6,100L28.5,72L24.5,42Z" fill="#3c3c3b"/><path d="M38.3,99.5L30.6,99.5C29.6,106 30.2,112.5 33,115.5C36.5,116.5 39,110 38.3,99.5Z" fill="#b98a5e"/><path d="M-9,4L9,4L16,10L13,34L-13,34L-16,10Z" fill="#b98a5e"/><path d="M-8,1C-4,7 4,7 8,1L8,-6L-8,-6Z" fill="#a17547"/><path d="M-14,8C-18,9 -25,10 -29,11.5L-25,40C-23,50 -19,58 -18.5,65C-18.5,72 -21.5,78 -22.6,72 L22.6,72 C21.5,78 18.5,72 18.5,65C19,58 23,50 25,40L29,11.5C25,10 18,9 14,8C13.5,36 -13.5,36 -14,8Z" fill="#3c3c3b"/><path d="M-24.6,42L-25.4,42L-29,72L-28.4,72Z" fill="rgba(0,0,0,.10)"/><path d="M24.6,42L25.4,42L29,72L28.4,72Z" fill="rgba(0,0,0,.10)"/><ellipse cx="-18" cy="-24.5" rx="3.1" ry="5.4" fill="#b98a5e"/><ellipse cx="18" cy="-24.5" rx="3.1" ry="5.4" fill="#b98a5e"/><path d="M-17.3,-29C-17.3,-41 -10,-46.5 0,-46.5C10,-46.5 17.3,-41 17.3,-29C17.3,-17 13.5,-8 9,-3.2C6,-0.4 3,0.3 0,0.3C-3,0.3 -6,-0.4 -9,-3.2C-13.5,-8 -17.3,-17 -17.3,-29Z" fill="#b98a5e"/><path d="M-17.6,-22C-18,-30 -12,-39 -3,-41C12,-39 18,-30 17.6,-22L20,-27C22.5,-40 14,-56 0,-56C-14,-56 -22.5,-40 -20,-27Z" fill="#1d1d1b"/></g>
</svg>
</div>
</body></html>
